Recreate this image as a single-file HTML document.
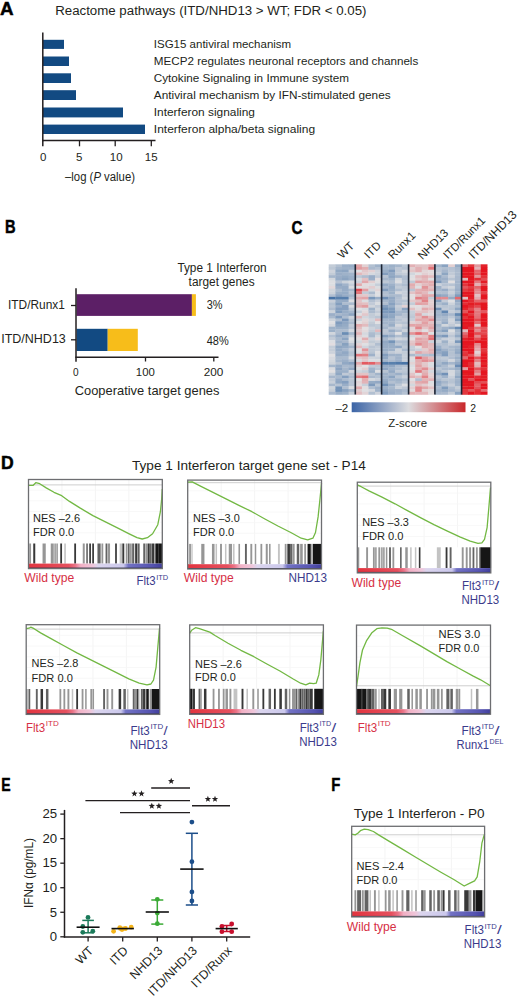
<!DOCTYPE html>
<html><head><meta charset="utf-8"><style>
html,body{margin:0;padding:0;background:#fff;}
svg{display:block;font-family:"Liberation Sans", sans-serif;}
</style></head><body>
<svg width="520" height="1001" viewBox="0 0 520 1001">
<rect width="520" height="1001" fill="#fff"/>
<text x="0.0" y="14.9" font-size="17.8" font-weight="bold" stroke="#000" stroke-width="0.45" textLength="13.6" lengthAdjust="spacingAndGlyphs" fill="#000">A</text>
<text x="55.2" y="15.0" font-size="12" textLength="311.3" lengthAdjust="spacingAndGlyphs" fill="#231f20">Reactome pathways (ITD/NHD13 &gt; WT; FDR &lt; 0.05)</text>
<rect x="43.00" y="39.80" width="21.00" height="9.10" fill="#124a82"/>
<rect x="43.00" y="56.50" width="26.00" height="9.50" fill="#124a82"/>
<rect x="43.00" y="73.30" width="28.00" height="9.70" fill="#124a82"/>
<rect x="43.00" y="90.20" width="33.00" height="9.80" fill="#124a82"/>
<rect x="43.00" y="107.50" width="80.00" height="9.90" fill="#124a82"/>
<rect x="43.00" y="124.60" width="102.00" height="9.40" fill="#124a82"/>
<line x1="42.80" y1="32.50" x2="42.80" y2="141.20" stroke="#231f20" stroke-width="1.5"/>
<line x1="42.10" y1="140.50" x2="155.50" y2="140.50" stroke="#231f20" stroke-width="1.5"/>
<line x1="79.50" y1="140.50" x2="79.50" y2="146.30" stroke="#231f20" stroke-width="1.3"/>
<line x1="115.20" y1="140.50" x2="115.20" y2="146.30" stroke="#231f20" stroke-width="1.3"/>
<line x1="151.30" y1="140.50" x2="151.30" y2="146.30" stroke="#231f20" stroke-width="1.3"/>
<line x1="42.80" y1="140.50" x2="42.80" y2="146.30" stroke="#231f20" stroke-width="1.5"/>
<text x="43.1" y="161.3" font-size="11.5" text-anchor="middle" fill="#231f20">0</text>
<text x="79.1" y="161.3" font-size="11.5" text-anchor="middle" fill="#231f20">5</text>
<text x="116.2" y="161.3" font-size="11.5" text-anchor="middle" fill="#231f20">10</text>
<text x="151.2" y="161.3" font-size="11.5" text-anchor="middle" fill="#231f20">15</text>
<text x="153.8" y="47.5" font-size="11.6" textLength="137.4" lengthAdjust="spacingAndGlyphs" fill="#231f20">ISG15 antiviral mechanism</text>
<text x="153.8" y="64.6" font-size="11.6" textLength="264.5" lengthAdjust="spacingAndGlyphs" fill="#231f20">MECP2 regulates neuronal receptors and channels</text>
<text x="153.8" y="81.7" font-size="11.6" textLength="195.2" lengthAdjust="spacingAndGlyphs" fill="#231f20">Cytokine Signaling in Immune system</text>
<text x="153.8" y="98.7" font-size="11.6" textLength="236.8" lengthAdjust="spacingAndGlyphs" fill="#231f20">Antiviral mechanism by IFN-stimulated genes</text>
<text x="153.8" y="115.7" font-size="11.6" textLength="101.1" lengthAdjust="spacingAndGlyphs" fill="#231f20">Interferon signaling</text>
<text x="153.8" y="132.7" font-size="11.6" textLength="161.3" lengthAdjust="spacingAndGlyphs" fill="#231f20">Interferon alpha/beta signaling</text>
<text x="65" y="181.2" font-size="12.5" textLength="70" lengthAdjust="spacingAndGlyphs" fill="#231f20">–log (<tspan font-style="italic">P</tspan> value)</text>
<text x="4.9" y="232.9" font-size="17.8" font-weight="bold" stroke="#000" stroke-width="0.45" textLength="10.6" lengthAdjust="spacingAndGlyphs" fill="#000">B</text>
<text x="177.4" y="271.9" font-size="12.3" textLength="89.3" lengthAdjust="spacingAndGlyphs" fill="#231f20">Type 1 Interferon</text>
<text x="188.6" y="286.3" font-size="12.3" textLength="66.0" lengthAdjust="spacingAndGlyphs" fill="#231f20">target genes</text>
<text x="8.0" y="309.2" font-size="12.3" textLength="56.9" lengthAdjust="spacingAndGlyphs" fill="#231f20">ITD/Runx1</text>
<text x="1.2" y="343.0" font-size="12.3" textLength="64.6" lengthAdjust="spacingAndGlyphs" fill="#231f20">ITD/NHD13</text>
<rect x="76.50" y="294.20" width="115.40" height="21.70" fill="#5c1f66"/>
<rect x="191.90" y="294.20" width="4.00" height="21.70" fill="#f7bd1a"/>
<rect x="76.50" y="328.80" width="31.20" height="22.20" fill="#124a82"/>
<rect x="107.70" y="328.80" width="30.10" height="22.20" fill="#f7bd1a"/>
<line x1="76.00" y1="288.20" x2="76.00" y2="361.70" stroke="#231f20" stroke-width="1.5"/>
<line x1="75.30" y1="357.20" x2="218.50" y2="357.20" stroke="#231f20" stroke-width="1.5"/>
<line x1="145.50" y1="357.20" x2="145.50" y2="361.50" stroke="#231f20" stroke-width="1.3"/>
<line x1="213.80" y1="357.20" x2="213.80" y2="361.50" stroke="#231f20" stroke-width="1.3"/>
<line x1="71.00" y1="305.50" x2="76.00" y2="305.50" stroke="#231f20" stroke-width="1.3"/>
<line x1="71.00" y1="339.80" x2="76.00" y2="339.80" stroke="#231f20" stroke-width="1.3"/>
<text x="206.7" y="308.8" font-size="12.3" textLength="15.8" lengthAdjust="spacingAndGlyphs" fill="#231f20">3%</text>
<text x="206.7" y="345.2" font-size="12.3" textLength="22.0" lengthAdjust="spacingAndGlyphs" fill="#231f20">48%</text>
<text x="73.0" y="376.2" font-size="11.7" textLength="5.6" lengthAdjust="spacingAndGlyphs" fill="#231f20">0</text>
<text x="135.8" y="376.2" font-size="11.7" textLength="19.0" lengthAdjust="spacingAndGlyphs" fill="#231f20">100</text>
<text x="203.8" y="376.2" font-size="11.7" textLength="19.6" lengthAdjust="spacingAndGlyphs" fill="#231f20">200</text>
<text x="74.7" y="395.2" font-size="12.6" textLength="144.8" lengthAdjust="spacingAndGlyphs" fill="#231f20">Cooperative target genes</text>
<text x="291.6" y="233.6" font-size="17.8" font-weight="bold" stroke="#000" stroke-width="0.45" textLength="11.0" lengthAdjust="spacingAndGlyphs" fill="#000">C</text>
<g filter="url(#hb)">
<rect x="328.70" y="264.30" width="6.95" height="3.01" fill="#c3ccd7"/>
<rect x="328.70" y="267.01" width="6.95" height="3.01" fill="#bdc8d5"/>
<rect x="328.70" y="269.73" width="6.95" height="3.01" fill="#ced3dc"/>
<rect x="328.70" y="272.44" width="6.95" height="3.01" fill="#c3ccd7"/>
<rect x="328.70" y="275.15" width="6.95" height="3.01" fill="#a5b6cb"/>
<rect x="328.70" y="277.86" width="6.95" height="3.01" fill="#d4d8de"/>
<rect x="328.70" y="280.57" width="6.95" height="3.01" fill="#dddee2"/>
<rect x="328.70" y="283.29" width="6.95" height="3.01" fill="#dbdde1"/>
<rect x="328.70" y="286.00" width="6.95" height="3.01" fill="#e2d8db"/>
<rect x="328.70" y="288.71" width="6.95" height="3.01" fill="#d0d5dc"/>
<rect x="328.70" y="291.43" width="6.95" height="3.01" fill="#cdd3db"/>
<rect x="328.70" y="294.14" width="6.95" height="3.01" fill="#b2bfd1"/>
<rect x="328.70" y="296.85" width="6.95" height="3.01" fill="#4773a6"/>
<rect x="328.70" y="299.56" width="6.95" height="3.01" fill="#c7ced9"/>
<rect x="328.70" y="302.28" width="6.95" height="3.01" fill="#b5c2d2"/>
<rect x="328.70" y="304.99" width="6.95" height="3.01" fill="#bac6d4"/>
<rect x="328.70" y="307.70" width="6.95" height="3.01" fill="#afbdcf"/>
<rect x="328.70" y="310.41" width="6.95" height="3.01" fill="#ced4dc"/>
<rect x="328.70" y="313.12" width="6.95" height="3.01" fill="#9cafc8"/>
<rect x="328.70" y="315.84" width="6.95" height="3.01" fill="#a9b9cd"/>
<rect x="328.70" y="318.55" width="6.95" height="3.01" fill="#ced4dc"/>
<rect x="328.70" y="321.26" width="6.95" height="3.01" fill="#e0e0e3"/>
<rect x="328.70" y="323.98" width="6.95" height="3.01" fill="#d6d9df"/>
<rect x="328.70" y="326.69" width="6.95" height="3.01" fill="#a0b3c9"/>
<rect x="328.70" y="329.40" width="6.95" height="3.01" fill="#9db1c8"/>
<rect x="328.70" y="332.11" width="6.95" height="3.01" fill="#d1d6dd"/>
<rect x="328.70" y="334.82" width="6.95" height="3.01" fill="#b4c1d2"/>
<rect x="328.70" y="337.54" width="6.95" height="3.01" fill="#c3cbd7"/>
<rect x="328.70" y="340.25" width="6.95" height="3.01" fill="#dddee2"/>
<rect x="328.70" y="342.96" width="6.95" height="3.01" fill="#e2dde0"/>
<rect x="328.70" y="345.68" width="6.95" height="3.01" fill="#c4cdd8"/>
<rect x="328.70" y="348.39" width="6.95" height="3.01" fill="#c5cdd8"/>
<rect x="328.70" y="351.10" width="6.95" height="3.01" fill="#ccd2db"/>
<rect x="328.70" y="353.81" width="6.95" height="3.01" fill="#e2e1e3"/>
<rect x="328.70" y="356.52" width="6.95" height="3.01" fill="#d8dae0"/>
<rect x="328.70" y="359.24" width="6.95" height="3.01" fill="#d2d7de"/>
<rect x="328.70" y="361.95" width="6.95" height="3.01" fill="#cdd3db"/>
<rect x="328.70" y="364.66" width="6.95" height="3.01" fill="#a3b5cb"/>
<rect x="328.70" y="367.38" width="6.95" height="3.01" fill="#d9dbe0"/>
<rect x="328.70" y="370.09" width="6.95" height="3.01" fill="#e2e0e2"/>
<rect x="328.70" y="372.80" width="6.95" height="3.01" fill="#c9d0da"/>
<rect x="328.70" y="375.51" width="6.95" height="3.01" fill="#a7b7cc"/>
<rect x="328.70" y="378.23" width="6.95" height="3.01" fill="#c0c9d6"/>
<rect x="328.70" y="380.94" width="6.95" height="3.01" fill="#c9d0da"/>
<rect x="328.70" y="383.65" width="6.95" height="3.01" fill="#a8b8cc"/>
<rect x="328.70" y="386.36" width="6.95" height="3.01" fill="#cfd5dc"/>
<rect x="328.70" y="389.07" width="6.95" height="3.01" fill="#c7cfd9"/>
<rect x="328.70" y="391.79" width="6.95" height="3.01" fill="#adbccf"/>
<rect x="335.35" y="264.30" width="6.95" height="3.01" fill="#b1bfd0"/>
<rect x="335.35" y="267.01" width="6.95" height="3.01" fill="#a5b6cb"/>
<rect x="335.35" y="269.73" width="6.95" height="3.01" fill="#92a9c4"/>
<rect x="335.35" y="272.44" width="6.95" height="3.01" fill="#9aaec7"/>
<rect x="335.35" y="275.15" width="6.95" height="3.01" fill="#9aaec7"/>
<rect x="335.35" y="277.86" width="6.95" height="3.01" fill="#97acc6"/>
<rect x="335.35" y="280.57" width="6.95" height="3.01" fill="#b5c1d2"/>
<rect x="335.35" y="283.29" width="6.95" height="3.01" fill="#8fa6c3"/>
<rect x="335.35" y="286.00" width="6.95" height="3.01" fill="#99adc6"/>
<rect x="335.35" y="288.71" width="6.95" height="3.01" fill="#abbbce"/>
<rect x="335.35" y="291.43" width="6.95" height="3.01" fill="#9bafc7"/>
<rect x="335.35" y="294.14" width="6.95" height="3.01" fill="#89a2c0"/>
<rect x="335.35" y="296.85" width="6.95" height="3.01" fill="#5980ad"/>
<rect x="335.35" y="299.56" width="6.95" height="3.01" fill="#96acc6"/>
<rect x="335.35" y="302.28" width="6.95" height="3.01" fill="#839ebe"/>
<rect x="335.35" y="304.99" width="6.95" height="3.01" fill="#99adc7"/>
<rect x="335.35" y="307.70" width="6.95" height="3.01" fill="#859fbf"/>
<rect x="335.35" y="310.41" width="6.95" height="3.01" fill="#829dbe"/>
<rect x="335.35" y="313.12" width="6.95" height="3.01" fill="#a8b8cc"/>
<rect x="335.35" y="315.84" width="6.95" height="3.01" fill="#819cbd"/>
<rect x="335.35" y="318.55" width="6.95" height="3.01" fill="#b0bed0"/>
<rect x="335.35" y="321.26" width="6.95" height="3.01" fill="#809cbd"/>
<rect x="335.35" y="323.98" width="6.95" height="3.01" fill="#8da5c2"/>
<rect x="335.35" y="326.69" width="6.95" height="3.01" fill="#9cb0c8"/>
<rect x="335.35" y="329.40" width="6.95" height="3.01" fill="#adbccf"/>
<rect x="335.35" y="332.11" width="6.95" height="3.01" fill="#a9b9cd"/>
<rect x="335.35" y="334.82" width="6.95" height="3.01" fill="#97acc6"/>
<rect x="335.35" y="337.54" width="6.95" height="3.01" fill="#a8b9cd"/>
<rect x="335.35" y="340.25" width="6.95" height="3.01" fill="#9eb1c9"/>
<rect x="335.35" y="342.96" width="6.95" height="3.01" fill="#abbbce"/>
<rect x="335.35" y="345.68" width="6.95" height="3.01" fill="#8ea6c2"/>
<rect x="335.35" y="348.39" width="6.95" height="3.01" fill="#95abc5"/>
<rect x="335.35" y="351.10" width="6.95" height="3.01" fill="#9eb1c9"/>
<rect x="335.35" y="353.81" width="6.95" height="3.01" fill="#96abc5"/>
<rect x="335.35" y="356.52" width="6.95" height="3.01" fill="#aabacd"/>
<rect x="335.35" y="359.24" width="6.95" height="3.01" fill="#a3b5cb"/>
<rect x="335.35" y="361.95" width="6.95" height="3.01" fill="#b6c2d2"/>
<rect x="335.35" y="364.66" width="6.95" height="3.01" fill="#94aac5"/>
<rect x="335.35" y="367.38" width="6.95" height="3.01" fill="#8ba3c1"/>
<rect x="335.35" y="370.09" width="6.95" height="3.01" fill="#9bafc7"/>
<rect x="335.35" y="372.80" width="6.95" height="3.01" fill="#8fa7c3"/>
<rect x="335.35" y="375.51" width="6.95" height="3.01" fill="#a9b9cd"/>
<rect x="335.35" y="378.23" width="6.95" height="3.01" fill="#95aac5"/>
<rect x="335.35" y="380.94" width="6.95" height="3.01" fill="#90a7c3"/>
<rect x="335.35" y="383.65" width="6.95" height="3.01" fill="#b7c3d3"/>
<rect x="335.35" y="386.36" width="6.95" height="3.01" fill="#7594b8"/>
<rect x="335.35" y="389.07" width="6.95" height="3.01" fill="#7191b7"/>
<rect x="335.35" y="391.79" width="6.95" height="3.01" fill="#98adc6"/>
<rect x="342.00" y="264.30" width="6.95" height="3.01" fill="#9bafc8"/>
<rect x="342.00" y="267.01" width="6.95" height="3.01" fill="#9fb2c9"/>
<rect x="342.00" y="269.73" width="6.95" height="3.01" fill="#8da5c2"/>
<rect x="342.00" y="272.44" width="6.95" height="3.01" fill="#9fb2c9"/>
<rect x="342.00" y="275.15" width="6.95" height="3.01" fill="#93aac4"/>
<rect x="342.00" y="277.86" width="6.95" height="3.01" fill="#8ca4c1"/>
<rect x="342.00" y="280.57" width="6.95" height="3.01" fill="#cbd2db"/>
<rect x="342.00" y="283.29" width="6.95" height="3.01" fill="#a1b3ca"/>
<rect x="342.00" y="286.00" width="6.95" height="3.01" fill="#96abc5"/>
<rect x="342.00" y="288.71" width="6.95" height="3.01" fill="#97acc6"/>
<rect x="342.00" y="291.43" width="6.95" height="3.01" fill="#96acc6"/>
<rect x="342.00" y="294.14" width="6.95" height="3.01" fill="#97acc6"/>
<rect x="342.00" y="296.85" width="6.95" height="3.01" fill="#587fad"/>
<rect x="342.00" y="299.56" width="6.95" height="3.01" fill="#96abc5"/>
<rect x="342.00" y="302.28" width="6.95" height="3.01" fill="#adbccf"/>
<rect x="342.00" y="304.99" width="6.95" height="3.01" fill="#87a0bf"/>
<rect x="342.00" y="307.70" width="6.95" height="3.01" fill="#87a0bf"/>
<rect x="342.00" y="310.41" width="6.95" height="3.01" fill="#98adc6"/>
<rect x="342.00" y="313.12" width="6.95" height="3.01" fill="#9eb1c9"/>
<rect x="342.00" y="315.84" width="6.95" height="3.01" fill="#adbccf"/>
<rect x="342.00" y="318.55" width="6.95" height="3.01" fill="#7b98bb"/>
<rect x="342.00" y="321.26" width="6.95" height="3.01" fill="#90a7c3"/>
<rect x="342.00" y="323.98" width="6.95" height="3.01" fill="#95abc5"/>
<rect x="342.00" y="326.69" width="6.95" height="3.01" fill="#9cb0c8"/>
<rect x="342.00" y="329.40" width="6.95" height="3.01" fill="#adbcce"/>
<rect x="342.00" y="332.11" width="6.95" height="3.01" fill="#6b8db4"/>
<rect x="342.00" y="334.82" width="6.95" height="3.01" fill="#a4b6cb"/>
<rect x="342.00" y="337.54" width="6.95" height="3.01" fill="#8ca5c2"/>
<rect x="342.00" y="340.25" width="6.95" height="3.01" fill="#a8b8cc"/>
<rect x="342.00" y="342.96" width="6.95" height="3.01" fill="#87a1bf"/>
<rect x="342.00" y="345.68" width="6.95" height="3.01" fill="#94aac5"/>
<rect x="342.00" y="348.39" width="6.95" height="3.01" fill="#a5b6cc"/>
<rect x="342.00" y="351.10" width="6.95" height="3.01" fill="#91a8c4"/>
<rect x="342.00" y="353.81" width="6.95" height="3.01" fill="#99aec7"/>
<rect x="342.00" y="356.52" width="6.95" height="3.01" fill="#aabace"/>
<rect x="342.00" y="359.24" width="6.95" height="3.01" fill="#9bafc8"/>
<rect x="342.00" y="361.95" width="6.95" height="3.01" fill="#91a8c4"/>
<rect x="342.00" y="364.66" width="6.95" height="3.01" fill="#a9b9cd"/>
<rect x="342.00" y="367.38" width="6.95" height="3.01" fill="#a5b6cb"/>
<rect x="342.00" y="370.09" width="6.95" height="3.01" fill="#9cb0c8"/>
<rect x="342.00" y="372.80" width="6.95" height="3.01" fill="#c0c9d6"/>
<rect x="342.00" y="375.51" width="6.95" height="3.01" fill="#859fbf"/>
<rect x="342.00" y="378.23" width="6.95" height="3.01" fill="#abbace"/>
<rect x="342.00" y="380.94" width="6.95" height="3.01" fill="#859fbf"/>
<rect x="342.00" y="383.65" width="6.95" height="3.01" fill="#99aec7"/>
<rect x="342.00" y="386.36" width="6.95" height="3.01" fill="#afbdcf"/>
<rect x="342.00" y="389.07" width="6.95" height="3.01" fill="#89a2c0"/>
<rect x="342.00" y="391.79" width="6.95" height="3.01" fill="#9fb2c9"/>
<rect x="348.65" y="264.30" width="6.95" height="3.01" fill="#98adc6"/>
<rect x="348.65" y="267.01" width="6.95" height="3.01" fill="#9fb2c9"/>
<rect x="348.65" y="269.73" width="6.95" height="3.01" fill="#bec8d6"/>
<rect x="348.65" y="272.44" width="6.95" height="3.01" fill="#a2b4ca"/>
<rect x="348.65" y="275.15" width="6.95" height="3.01" fill="#9bafc8"/>
<rect x="348.65" y="277.86" width="6.95" height="3.01" fill="#9aaec7"/>
<rect x="348.65" y="280.57" width="6.95" height="3.01" fill="#d6d9df"/>
<rect x="348.65" y="283.29" width="6.95" height="3.01" fill="#c6ced9"/>
<rect x="348.65" y="286.00" width="6.95" height="3.01" fill="#d9dbe0"/>
<rect x="348.65" y="288.71" width="6.95" height="3.01" fill="#a7b8cc"/>
<rect x="348.65" y="291.43" width="6.95" height="3.01" fill="#b9c4d3"/>
<rect x="348.65" y="294.14" width="6.95" height="3.01" fill="#a3b5cb"/>
<rect x="348.65" y="296.85" width="6.95" height="3.01" fill="#b4c1d2"/>
<rect x="348.65" y="299.56" width="6.95" height="3.01" fill="#d9dbe0"/>
<rect x="348.65" y="302.28" width="6.95" height="3.01" fill="#aabace"/>
<rect x="348.65" y="304.99" width="6.95" height="3.01" fill="#d5d9df"/>
<rect x="348.65" y="307.70" width="6.95" height="3.01" fill="#b8c4d3"/>
<rect x="348.65" y="310.41" width="6.95" height="3.01" fill="#a3b5cb"/>
<rect x="348.65" y="313.12" width="6.95" height="3.01" fill="#8ba4c1"/>
<rect x="348.65" y="315.84" width="6.95" height="3.01" fill="#cad1da"/>
<rect x="348.65" y="318.55" width="6.95" height="3.01" fill="#b6c3d2"/>
<rect x="348.65" y="321.26" width="6.95" height="3.01" fill="#aabace"/>
<rect x="348.65" y="323.98" width="6.95" height="3.01" fill="#c1cad7"/>
<rect x="348.65" y="326.69" width="6.95" height="3.01" fill="#b7c3d3"/>
<rect x="348.65" y="329.40" width="6.95" height="3.01" fill="#d3d7de"/>
<rect x="348.65" y="332.11" width="6.95" height="3.01" fill="#a7b8cc"/>
<rect x="348.65" y="334.82" width="6.95" height="3.01" fill="#c4ccd8"/>
<rect x="348.65" y="337.54" width="6.95" height="3.01" fill="#dfe0e2"/>
<rect x="348.65" y="340.25" width="6.95" height="3.01" fill="#d4d8de"/>
<rect x="348.65" y="342.96" width="6.95" height="3.01" fill="#bdc7d5"/>
<rect x="348.65" y="345.68" width="6.95" height="3.01" fill="#a3b5cb"/>
<rect x="348.65" y="348.39" width="6.95" height="3.01" fill="#c1cad7"/>
<rect x="348.65" y="351.10" width="6.95" height="3.01" fill="#b4c1d2"/>
<rect x="348.65" y="353.81" width="6.95" height="3.01" fill="#b7c3d2"/>
<rect x="348.65" y="356.52" width="6.95" height="3.01" fill="#d4d8de"/>
<rect x="348.65" y="359.24" width="6.95" height="3.01" fill="#b3c0d1"/>
<rect x="348.65" y="361.95" width="6.95" height="3.01" fill="#89a2c0"/>
<rect x="348.65" y="364.66" width="6.95" height="3.01" fill="#a6b7cc"/>
<rect x="348.65" y="367.38" width="6.95" height="3.01" fill="#90a7c3"/>
<rect x="348.65" y="370.09" width="6.95" height="3.01" fill="#cfd4dc"/>
<rect x="348.65" y="372.80" width="6.95" height="3.01" fill="#b4c1d1"/>
<rect x="348.65" y="375.51" width="6.95" height="3.01" fill="#adbccf"/>
<rect x="348.65" y="378.23" width="6.95" height="3.01" fill="#b9c5d3"/>
<rect x="348.65" y="380.94" width="6.95" height="3.01" fill="#b7c3d3"/>
<rect x="348.65" y="383.65" width="6.95" height="3.01" fill="#b7c3d3"/>
<rect x="348.65" y="386.36" width="6.95" height="3.01" fill="#d8dbe0"/>
<rect x="348.65" y="389.07" width="6.95" height="3.01" fill="#a3b5cb"/>
<rect x="348.65" y="391.79" width="6.95" height="3.01" fill="#c5cdd8"/>
<rect x="355.30" y="264.30" width="6.88" height="3.01" fill="#e2a6a9"/>
<rect x="355.30" y="267.01" width="6.88" height="3.01" fill="#e29b9f"/>
<rect x="355.30" y="269.73" width="6.88" height="3.01" fill="#e1e1e3"/>
<rect x="355.30" y="272.44" width="6.88" height="3.01" fill="#e2b8bb"/>
<rect x="355.30" y="275.15" width="6.88" height="3.01" fill="#bdc7d5"/>
<rect x="355.30" y="277.86" width="6.88" height="3.01" fill="#d7dadf"/>
<rect x="355.30" y="280.57" width="6.88" height="3.01" fill="#cdd2db"/>
<rect x="355.30" y="283.29" width="6.88" height="3.01" fill="#e2abae"/>
<rect x="355.30" y="286.00" width="6.88" height="3.01" fill="#dedfe2"/>
<rect x="355.30" y="288.71" width="6.88" height="3.01" fill="#e34c52"/>
<rect x="355.30" y="291.43" width="6.88" height="3.01" fill="#e3787d"/>
<rect x="355.30" y="294.14" width="6.88" height="3.01" fill="#e2c5c8"/>
<rect x="355.30" y="296.85" width="6.88" height="3.01" fill="#e2abaf"/>
<rect x="355.30" y="299.56" width="6.88" height="3.01" fill="#e2c3c6"/>
<rect x="355.30" y="302.28" width="6.88" height="3.01" fill="#e2b9bc"/>
<rect x="355.30" y="304.99" width="6.88" height="3.01" fill="#e2acb0"/>
<rect x="355.30" y="307.70" width="6.88" height="3.01" fill="#dfe0e3"/>
<rect x="355.30" y="310.41" width="6.88" height="3.01" fill="#c5cdd8"/>
<rect x="355.30" y="313.12" width="6.88" height="3.01" fill="#dedfe2"/>
<rect x="355.30" y="315.84" width="6.88" height="3.01" fill="#e2b4b7"/>
<rect x="355.30" y="318.55" width="6.88" height="3.01" fill="#cdd3db"/>
<rect x="355.30" y="321.26" width="6.88" height="3.01" fill="#e2dfe1"/>
<rect x="355.30" y="323.98" width="6.88" height="3.01" fill="#e2acaf"/>
<rect x="355.30" y="326.69" width="6.88" height="3.01" fill="#e2bdc0"/>
<rect x="355.30" y="329.40" width="6.88" height="3.01" fill="#e2cacd"/>
<rect x="355.30" y="332.11" width="6.88" height="3.01" fill="#e2b3b6"/>
<rect x="355.30" y="334.82" width="6.88" height="3.01" fill="#e2cfd2"/>
<rect x="355.30" y="337.54" width="6.88" height="3.01" fill="#e2dddf"/>
<rect x="355.30" y="340.25" width="6.88" height="3.01" fill="#d1d6dd"/>
<rect x="355.30" y="342.96" width="6.88" height="3.01" fill="#e2d3d6"/>
<rect x="355.30" y="345.68" width="6.88" height="3.01" fill="#e2b9bd"/>
<rect x="355.30" y="348.39" width="6.88" height="3.01" fill="#dfdfe2"/>
<rect x="355.30" y="351.10" width="6.88" height="3.01" fill="#dadce0"/>
<rect x="355.30" y="353.81" width="6.88" height="3.01" fill="#e3787d"/>
<rect x="355.30" y="356.52" width="6.88" height="3.01" fill="#e2cacd"/>
<rect x="355.30" y="359.24" width="6.88" height="3.01" fill="#d8dbe0"/>
<rect x="355.30" y="361.95" width="6.88" height="3.01" fill="#e2a9ac"/>
<rect x="355.30" y="364.66" width="6.88" height="3.01" fill="#e2ced0"/>
<rect x="355.30" y="367.38" width="6.88" height="3.01" fill="#dfe0e2"/>
<rect x="355.30" y="370.09" width="6.88" height="3.01" fill="#ced4dc"/>
<rect x="355.30" y="372.80" width="6.88" height="3.01" fill="#e2c1c4"/>
<rect x="355.30" y="375.51" width="6.88" height="3.01" fill="#e27f84"/>
<rect x="355.30" y="378.23" width="6.88" height="3.01" fill="#e1e1e3"/>
<rect x="355.30" y="380.94" width="6.88" height="3.01" fill="#e2d4d7"/>
<rect x="355.30" y="383.65" width="6.88" height="3.01" fill="#e2dadc"/>
<rect x="355.30" y="386.36" width="6.88" height="3.01" fill="#e2aaae"/>
<rect x="355.30" y="389.07" width="6.88" height="3.01" fill="#e2cdcf"/>
<rect x="355.30" y="391.79" width="6.88" height="3.01" fill="#e2bec1"/>
<rect x="361.88" y="264.30" width="6.88" height="3.01" fill="#e2d1d3"/>
<rect x="361.88" y="267.01" width="6.88" height="3.01" fill="#e2adb0"/>
<rect x="361.88" y="269.73" width="6.88" height="3.01" fill="#e2c7ca"/>
<rect x="361.88" y="272.44" width="6.88" height="3.01" fill="#e2ced0"/>
<rect x="361.88" y="275.15" width="6.88" height="3.01" fill="#afbdcf"/>
<rect x="361.88" y="277.86" width="6.88" height="3.01" fill="#e2c0c3"/>
<rect x="361.88" y="280.57" width="6.88" height="3.01" fill="#e2a7ab"/>
<rect x="361.88" y="283.29" width="6.88" height="3.01" fill="#e2dcde"/>
<rect x="361.88" y="286.00" width="6.88" height="3.01" fill="#e2dadc"/>
<rect x="361.88" y="288.71" width="6.88" height="3.01" fill="#e29ea2"/>
<rect x="361.88" y="291.43" width="6.88" height="3.01" fill="#c2cbd7"/>
<rect x="361.88" y="294.14" width="6.88" height="3.01" fill="#e2c8cb"/>
<rect x="361.88" y="296.85" width="6.88" height="3.01" fill="#e2a4a8"/>
<rect x="361.88" y="299.56" width="6.88" height="3.01" fill="#dbdde1"/>
<rect x="361.88" y="302.28" width="6.88" height="3.01" fill="#e2bfc2"/>
<rect x="361.88" y="304.99" width="6.88" height="3.01" fill="#e29da1"/>
<rect x="361.88" y="307.70" width="6.88" height="3.01" fill="#d8dbe0"/>
<rect x="361.88" y="310.41" width="6.88" height="3.01" fill="#e2d9db"/>
<rect x="361.88" y="313.12" width="6.88" height="3.01" fill="#e2c7ca"/>
<rect x="361.88" y="315.84" width="6.88" height="3.01" fill="#d0d5dc"/>
<rect x="361.88" y="318.55" width="6.88" height="3.01" fill="#e2d7d9"/>
<rect x="361.88" y="321.26" width="6.88" height="3.01" fill="#e2d0d2"/>
<rect x="361.88" y="323.98" width="6.88" height="3.01" fill="#e2bbbe"/>
<rect x="361.88" y="326.69" width="6.88" height="3.01" fill="#e2dfe1"/>
<rect x="361.88" y="329.40" width="6.88" height="3.01" fill="#e2dadc"/>
<rect x="361.88" y="332.11" width="6.88" height="3.01" fill="#d5d8de"/>
<rect x="361.88" y="334.82" width="6.88" height="3.01" fill="#dcdde1"/>
<rect x="361.88" y="337.54" width="6.88" height="3.01" fill="#e2adb0"/>
<rect x="361.88" y="340.25" width="6.88" height="3.01" fill="#e2cfd1"/>
<rect x="361.88" y="342.96" width="6.88" height="3.01" fill="#e0e0e3"/>
<rect x="361.88" y="345.68" width="6.88" height="3.01" fill="#d0d5dd"/>
<rect x="361.88" y="348.39" width="6.88" height="3.01" fill="#e29398"/>
<rect x="361.88" y="351.10" width="6.88" height="3.01" fill="#e2bbbe"/>
<rect x="361.88" y="353.81" width="6.88" height="3.01" fill="#e28287"/>
<rect x="361.88" y="356.52" width="6.88" height="3.01" fill="#e2bfc2"/>
<rect x="361.88" y="359.24" width="6.88" height="3.01" fill="#e2c7ca"/>
<rect x="361.88" y="361.95" width="6.88" height="3.01" fill="#e35a60"/>
<rect x="361.88" y="364.66" width="6.88" height="3.01" fill="#e0e1e3"/>
<rect x="361.88" y="367.38" width="6.88" height="3.01" fill="#e2ced0"/>
<rect x="361.88" y="370.09" width="6.88" height="3.01" fill="#c5cdd8"/>
<rect x="361.88" y="372.80" width="6.88" height="3.01" fill="#e2c2c5"/>
<rect x="361.88" y="375.51" width="6.88" height="3.01" fill="#e36f75"/>
<rect x="361.88" y="378.23" width="6.88" height="3.01" fill="#e2aeb1"/>
<rect x="361.88" y="380.94" width="6.88" height="3.01" fill="#e2b3b7"/>
<rect x="361.88" y="383.65" width="6.88" height="3.01" fill="#c8cfd9"/>
<rect x="361.88" y="386.36" width="6.88" height="3.01" fill="#e2dddf"/>
<rect x="361.88" y="389.07" width="6.88" height="3.01" fill="#e0e0e3"/>
<rect x="361.88" y="391.79" width="6.88" height="3.01" fill="#e2d5d8"/>
<rect x="368.45" y="264.30" width="6.88" height="3.01" fill="#b2c0d1"/>
<rect x="368.45" y="267.01" width="6.88" height="3.01" fill="#abbace"/>
<rect x="368.45" y="269.73" width="6.88" height="3.01" fill="#e2d0d3"/>
<rect x="368.45" y="272.44" width="6.88" height="3.01" fill="#d5d9df"/>
<rect x="368.45" y="275.15" width="6.88" height="3.01" fill="#99adc7"/>
<rect x="368.45" y="277.86" width="6.88" height="3.01" fill="#9bafc8"/>
<rect x="368.45" y="280.57" width="6.88" height="3.01" fill="#e2cfd1"/>
<rect x="368.45" y="283.29" width="6.88" height="3.01" fill="#dadce1"/>
<rect x="368.45" y="286.00" width="6.88" height="3.01" fill="#e2cccf"/>
<rect x="368.45" y="288.71" width="6.88" height="3.01" fill="#d4d8de"/>
<rect x="368.45" y="291.43" width="6.88" height="3.01" fill="#acbbce"/>
<rect x="368.45" y="294.14" width="6.88" height="3.01" fill="#c6ced9"/>
<rect x="368.45" y="296.85" width="6.88" height="3.01" fill="#7a98bb"/>
<rect x="368.45" y="299.56" width="6.88" height="3.01" fill="#b3c0d1"/>
<rect x="368.45" y="302.28" width="6.88" height="3.01" fill="#c1cad7"/>
<rect x="368.45" y="304.99" width="6.88" height="3.01" fill="#d0d5dc"/>
<rect x="368.45" y="307.70" width="6.88" height="3.01" fill="#9db1c8"/>
<rect x="368.45" y="310.41" width="6.88" height="3.01" fill="#acbbce"/>
<rect x="368.45" y="313.12" width="6.88" height="3.01" fill="#c2cbd7"/>
<rect x="368.45" y="315.84" width="6.88" height="3.01" fill="#c3ccd8"/>
<rect x="368.45" y="318.55" width="6.88" height="3.01" fill="#d1d5dd"/>
<rect x="368.45" y="321.26" width="6.88" height="3.01" fill="#c3ccd7"/>
<rect x="368.45" y="323.98" width="6.88" height="3.01" fill="#bbc6d4"/>
<rect x="368.45" y="326.69" width="6.88" height="3.01" fill="#ccd2db"/>
<rect x="368.45" y="329.40" width="6.88" height="3.01" fill="#c2cbd7"/>
<rect x="368.45" y="332.11" width="6.88" height="3.01" fill="#adbccf"/>
<rect x="368.45" y="334.82" width="6.88" height="3.01" fill="#a9b9cd"/>
<rect x="368.45" y="337.54" width="6.88" height="3.01" fill="#cdd3dc"/>
<rect x="368.45" y="340.25" width="6.88" height="3.01" fill="#c0cad6"/>
<rect x="368.45" y="342.96" width="6.88" height="3.01" fill="#cdd3db"/>
<rect x="368.45" y="345.68" width="6.88" height="3.01" fill="#b9c4d3"/>
<rect x="368.45" y="348.39" width="6.88" height="3.01" fill="#bcc7d5"/>
<rect x="368.45" y="351.10" width="6.88" height="3.01" fill="#b8c4d3"/>
<rect x="368.45" y="353.81" width="6.88" height="3.01" fill="#9eb1c9"/>
<rect x="368.45" y="356.52" width="6.88" height="3.01" fill="#ced4dc"/>
<rect x="368.45" y="359.24" width="6.88" height="3.01" fill="#dadce1"/>
<rect x="368.45" y="361.95" width="6.88" height="3.01" fill="#e36066"/>
<rect x="368.45" y="364.66" width="6.88" height="3.01" fill="#c1cad7"/>
<rect x="368.45" y="367.38" width="6.88" height="3.01" fill="#a2b4ca"/>
<rect x="368.45" y="370.09" width="6.88" height="3.01" fill="#9aafc7"/>
<rect x="368.45" y="372.80" width="6.88" height="3.01" fill="#b9c4d3"/>
<rect x="368.45" y="375.51" width="6.88" height="3.01" fill="#aab9cd"/>
<rect x="368.45" y="378.23" width="6.88" height="3.01" fill="#d4d8de"/>
<rect x="368.45" y="380.94" width="6.88" height="3.01" fill="#96acc6"/>
<rect x="368.45" y="383.65" width="6.88" height="3.01" fill="#7e9abc"/>
<rect x="368.45" y="386.36" width="6.88" height="3.01" fill="#b0bed0"/>
<rect x="368.45" y="389.07" width="6.88" height="3.01" fill="#d3d7de"/>
<rect x="368.45" y="391.79" width="6.88" height="3.01" fill="#b2c0d1"/>
<rect x="375.03" y="264.30" width="6.88" height="3.01" fill="#9fb2c9"/>
<rect x="375.03" y="267.01" width="6.88" height="3.01" fill="#b4c1d2"/>
<rect x="375.03" y="269.73" width="6.88" height="3.01" fill="#ced3dc"/>
<rect x="375.03" y="272.44" width="6.88" height="3.01" fill="#ccd2db"/>
<rect x="375.03" y="275.15" width="6.88" height="3.01" fill="#bfc9d6"/>
<rect x="375.03" y="277.86" width="6.88" height="3.01" fill="#e2dddf"/>
<rect x="375.03" y="280.57" width="6.88" height="3.01" fill="#dedfe2"/>
<rect x="375.03" y="283.29" width="6.88" height="3.01" fill="#c6ced9"/>
<rect x="375.03" y="286.00" width="6.88" height="3.01" fill="#dbdde1"/>
<rect x="375.03" y="288.71" width="6.88" height="3.01" fill="#e2d4d6"/>
<rect x="375.03" y="291.43" width="6.88" height="3.01" fill="#dedfe2"/>
<rect x="375.03" y="294.14" width="6.88" height="3.01" fill="#dedfe2"/>
<rect x="375.03" y="296.85" width="6.88" height="3.01" fill="#99aec7"/>
<rect x="375.03" y="299.56" width="6.88" height="3.01" fill="#c7ced9"/>
<rect x="375.03" y="302.28" width="6.88" height="3.01" fill="#d9dce0"/>
<rect x="375.03" y="304.99" width="6.88" height="3.01" fill="#c0c9d6"/>
<rect x="375.03" y="307.70" width="6.88" height="3.01" fill="#ced4dc"/>
<rect x="375.03" y="310.41" width="6.88" height="3.01" fill="#c2cbd7"/>
<rect x="375.03" y="313.12" width="6.88" height="3.01" fill="#d1d6dd"/>
<rect x="375.03" y="315.84" width="6.88" height="3.01" fill="#b9c5d4"/>
<rect x="375.03" y="318.55" width="6.88" height="3.01" fill="#e2babd"/>
<rect x="375.03" y="321.26" width="6.88" height="3.01" fill="#e1e1e3"/>
<rect x="375.03" y="323.98" width="6.88" height="3.01" fill="#c2cbd7"/>
<rect x="375.03" y="326.69" width="6.88" height="3.01" fill="#bfc9d6"/>
<rect x="375.03" y="329.40" width="6.88" height="3.01" fill="#e2b8bc"/>
<rect x="375.03" y="332.11" width="6.88" height="3.01" fill="#bec8d5"/>
<rect x="375.03" y="334.82" width="6.88" height="3.01" fill="#d2d7de"/>
<rect x="375.03" y="337.54" width="6.88" height="3.01" fill="#e2d8da"/>
<rect x="375.03" y="340.25" width="6.88" height="3.01" fill="#c8cfd9"/>
<rect x="375.03" y="342.96" width="6.88" height="3.01" fill="#b0bed0"/>
<rect x="375.03" y="345.68" width="6.88" height="3.01" fill="#c2cbd7"/>
<rect x="375.03" y="348.39" width="6.88" height="3.01" fill="#c5cdd8"/>
<rect x="375.03" y="351.10" width="6.88" height="3.01" fill="#dcdde1"/>
<rect x="375.03" y="353.81" width="6.88" height="3.01" fill="#d5d9df"/>
<rect x="375.03" y="356.52" width="6.88" height="3.01" fill="#c9d0da"/>
<rect x="375.03" y="359.24" width="6.88" height="3.01" fill="#dadce0"/>
<rect x="375.03" y="361.95" width="6.88" height="3.01" fill="#e28f93"/>
<rect x="375.03" y="364.66" width="6.88" height="3.01" fill="#bcc6d4"/>
<rect x="375.03" y="367.38" width="6.88" height="3.01" fill="#b8c4d3"/>
<rect x="375.03" y="370.09" width="6.88" height="3.01" fill="#dedfe2"/>
<rect x="375.03" y="372.80" width="6.88" height="3.01" fill="#a2b4ca"/>
<rect x="375.03" y="375.51" width="6.88" height="3.01" fill="#b5c2d2"/>
<rect x="375.03" y="378.23" width="6.88" height="3.01" fill="#c7ced9"/>
<rect x="375.03" y="380.94" width="6.88" height="3.01" fill="#92a8c4"/>
<rect x="375.03" y="383.65" width="6.88" height="3.01" fill="#b8c4d3"/>
<rect x="375.03" y="386.36" width="6.88" height="3.01" fill="#9db0c8"/>
<rect x="375.03" y="389.07" width="6.88" height="3.01" fill="#a0b3ca"/>
<rect x="375.03" y="391.79" width="6.88" height="3.01" fill="#ced3dc"/>
<rect x="381.60" y="264.30" width="7.05" height="3.01" fill="#a7b8cc"/>
<rect x="381.60" y="267.01" width="7.05" height="3.01" fill="#a3b5cb"/>
<rect x="381.60" y="269.73" width="7.05" height="3.01" fill="#99aec7"/>
<rect x="381.60" y="272.44" width="7.05" height="3.01" fill="#849ebe"/>
<rect x="381.60" y="275.15" width="7.05" height="3.01" fill="#b7c3d3"/>
<rect x="381.60" y="277.86" width="7.05" height="3.01" fill="#a7b7cc"/>
<rect x="381.60" y="280.57" width="7.05" height="3.01" fill="#bdc7d5"/>
<rect x="381.60" y="283.29" width="7.05" height="3.01" fill="#94aac5"/>
<rect x="381.60" y="286.00" width="7.05" height="3.01" fill="#a5b6cc"/>
<rect x="381.60" y="288.71" width="7.05" height="3.01" fill="#829dbd"/>
<rect x="381.60" y="291.43" width="7.05" height="3.01" fill="#b1bfd0"/>
<rect x="381.60" y="294.14" width="7.05" height="3.01" fill="#b2bfd0"/>
<rect x="381.60" y="296.85" width="7.05" height="3.01" fill="#6f90b6"/>
<rect x="381.60" y="299.56" width="7.05" height="3.01" fill="#a6b7cc"/>
<rect x="381.60" y="302.28" width="7.05" height="3.01" fill="#afbdcf"/>
<rect x="381.60" y="304.99" width="7.05" height="3.01" fill="#859fbf"/>
<rect x="381.60" y="307.70" width="7.05" height="3.01" fill="#7091b7"/>
<rect x="381.60" y="310.41" width="7.05" height="3.01" fill="#7d9abc"/>
<rect x="381.60" y="313.12" width="7.05" height="3.01" fill="#8da5c2"/>
<rect x="381.60" y="315.84" width="7.05" height="3.01" fill="#839ebe"/>
<rect x="381.60" y="318.55" width="7.05" height="3.01" fill="#a3b5cb"/>
<rect x="381.60" y="321.26" width="7.05" height="3.01" fill="#a3b5cb"/>
<rect x="381.60" y="323.98" width="7.05" height="3.01" fill="#afbed0"/>
<rect x="381.60" y="326.69" width="7.05" height="3.01" fill="#a6b7cc"/>
<rect x="381.60" y="329.40" width="7.05" height="3.01" fill="#bdc7d5"/>
<rect x="381.60" y="332.11" width="7.05" height="3.01" fill="#b7c3d3"/>
<rect x="381.60" y="334.82" width="7.05" height="3.01" fill="#839ebe"/>
<rect x="381.60" y="337.54" width="7.05" height="3.01" fill="#a6b7cc"/>
<rect x="381.60" y="340.25" width="7.05" height="3.01" fill="#92a8c4"/>
<rect x="381.60" y="342.96" width="7.05" height="3.01" fill="#97acc6"/>
<rect x="381.60" y="345.68" width="7.05" height="3.01" fill="#99adc7"/>
<rect x="381.60" y="348.39" width="7.05" height="3.01" fill="#99aec7"/>
<rect x="381.60" y="351.10" width="7.05" height="3.01" fill="#a5b6cb"/>
<rect x="381.60" y="353.81" width="7.05" height="3.01" fill="#839ebe"/>
<rect x="381.60" y="356.52" width="7.05" height="3.01" fill="#8fa7c3"/>
<rect x="381.60" y="359.24" width="7.05" height="3.01" fill="#a1b4ca"/>
<rect x="381.60" y="361.95" width="7.05" height="3.01" fill="#527baa"/>
<rect x="381.60" y="364.66" width="7.05" height="3.01" fill="#96abc5"/>
<rect x="381.60" y="367.38" width="7.05" height="3.01" fill="#8ea5c2"/>
<rect x="381.60" y="370.09" width="7.05" height="3.01" fill="#b7c3d2"/>
<rect x="381.60" y="372.80" width="7.05" height="3.01" fill="#9fb2c9"/>
<rect x="381.60" y="375.51" width="7.05" height="3.01" fill="#a0b3c9"/>
<rect x="381.60" y="378.23" width="7.05" height="3.01" fill="#97acc6"/>
<rect x="381.60" y="380.94" width="7.05" height="3.01" fill="#8fa7c3"/>
<rect x="381.60" y="383.65" width="7.05" height="3.01" fill="#7090b6"/>
<rect x="381.60" y="386.36" width="7.05" height="3.01" fill="#9aaec7"/>
<rect x="381.60" y="389.07" width="7.05" height="3.01" fill="#8ea6c2"/>
<rect x="381.60" y="391.79" width="7.05" height="3.01" fill="#829dbe"/>
<rect x="388.35" y="264.30" width="7.05" height="3.01" fill="#9cb0c8"/>
<rect x="388.35" y="267.01" width="7.05" height="3.01" fill="#a2b4ca"/>
<rect x="388.35" y="269.73" width="7.05" height="3.01" fill="#819cbd"/>
<rect x="388.35" y="272.44" width="7.05" height="3.01" fill="#94aac5"/>
<rect x="388.35" y="275.15" width="7.05" height="3.01" fill="#8da5c2"/>
<rect x="388.35" y="277.86" width="7.05" height="3.01" fill="#a1b4ca"/>
<rect x="388.35" y="280.57" width="7.05" height="3.01" fill="#b0bed0"/>
<rect x="388.35" y="283.29" width="7.05" height="3.01" fill="#9eb1c9"/>
<rect x="388.35" y="286.00" width="7.05" height="3.01" fill="#95abc5"/>
<rect x="388.35" y="288.71" width="7.05" height="3.01" fill="#9bafc7"/>
<rect x="388.35" y="291.43" width="7.05" height="3.01" fill="#9db1c8"/>
<rect x="388.35" y="294.14" width="7.05" height="3.01" fill="#aabacd"/>
<rect x="388.35" y="296.85" width="7.05" height="3.01" fill="#92a8c4"/>
<rect x="388.35" y="299.56" width="7.05" height="3.01" fill="#96abc5"/>
<rect x="388.35" y="302.28" width="7.05" height="3.01" fill="#88a1c0"/>
<rect x="388.35" y="304.99" width="7.05" height="3.01" fill="#99aec7"/>
<rect x="388.35" y="307.70" width="7.05" height="3.01" fill="#7f9bbc"/>
<rect x="388.35" y="310.41" width="7.05" height="3.01" fill="#7896ba"/>
<rect x="388.35" y="313.12" width="7.05" height="3.01" fill="#91a8c4"/>
<rect x="388.35" y="315.84" width="7.05" height="3.01" fill="#8ea6c2"/>
<rect x="388.35" y="318.55" width="7.05" height="3.01" fill="#a0b2c9"/>
<rect x="388.35" y="321.26" width="7.05" height="3.01" fill="#a4b5cb"/>
<rect x="388.35" y="323.98" width="7.05" height="3.01" fill="#98adc6"/>
<rect x="388.35" y="326.69" width="7.05" height="3.01" fill="#bec8d6"/>
<rect x="388.35" y="329.40" width="7.05" height="3.01" fill="#98adc6"/>
<rect x="388.35" y="332.11" width="7.05" height="3.01" fill="#b2bfd1"/>
<rect x="388.35" y="334.82" width="7.05" height="3.01" fill="#97acc6"/>
<rect x="388.35" y="337.54" width="7.05" height="3.01" fill="#bec8d5"/>
<rect x="388.35" y="340.25" width="7.05" height="3.01" fill="#7695b9"/>
<rect x="388.35" y="342.96" width="7.05" height="3.01" fill="#98adc6"/>
<rect x="388.35" y="345.68" width="7.05" height="3.01" fill="#9aaec7"/>
<rect x="388.35" y="348.39" width="7.05" height="3.01" fill="#9fb2c9"/>
<rect x="388.35" y="351.10" width="7.05" height="3.01" fill="#c1cad7"/>
<rect x="388.35" y="353.81" width="7.05" height="3.01" fill="#a0b2c9"/>
<rect x="388.35" y="356.52" width="7.05" height="3.01" fill="#b7c3d3"/>
<rect x="388.35" y="359.24" width="7.05" height="3.01" fill="#abbace"/>
<rect x="388.35" y="361.95" width="7.05" height="3.01" fill="#5980ad"/>
<rect x="388.35" y="364.66" width="7.05" height="3.01" fill="#90a7c3"/>
<rect x="388.35" y="367.38" width="7.05" height="3.01" fill="#9fb2c9"/>
<rect x="388.35" y="370.09" width="7.05" height="3.01" fill="#93a9c4"/>
<rect x="388.35" y="372.80" width="7.05" height="3.01" fill="#a9b9cd"/>
<rect x="388.35" y="375.51" width="7.05" height="3.01" fill="#8ba4c1"/>
<rect x="388.35" y="378.23" width="7.05" height="3.01" fill="#a3b5cb"/>
<rect x="388.35" y="380.94" width="7.05" height="3.01" fill="#b3c0d1"/>
<rect x="388.35" y="383.65" width="7.05" height="3.01" fill="#98adc6"/>
<rect x="388.35" y="386.36" width="7.05" height="3.01" fill="#a7b8cc"/>
<rect x="388.35" y="389.07" width="7.05" height="3.01" fill="#9eb1c9"/>
<rect x="388.35" y="391.79" width="7.05" height="3.01" fill="#99adc7"/>
<rect x="395.10" y="264.30" width="7.05" height="3.01" fill="#a5b6cb"/>
<rect x="395.10" y="267.01" width="7.05" height="3.01" fill="#bfc8d6"/>
<rect x="395.10" y="269.73" width="7.05" height="3.01" fill="#bec8d5"/>
<rect x="395.10" y="272.44" width="7.05" height="3.01" fill="#bfc9d6"/>
<rect x="395.10" y="275.15" width="7.05" height="3.01" fill="#a0b2c9"/>
<rect x="395.10" y="277.86" width="7.05" height="3.01" fill="#d2d7de"/>
<rect x="395.10" y="280.57" width="7.05" height="3.01" fill="#dddee2"/>
<rect x="395.10" y="283.29" width="7.05" height="3.01" fill="#bac5d4"/>
<rect x="395.10" y="286.00" width="7.05" height="3.01" fill="#c3ccd8"/>
<rect x="395.10" y="288.71" width="7.05" height="3.01" fill="#b0bed0"/>
<rect x="395.10" y="291.43" width="7.05" height="3.01" fill="#d2d6dd"/>
<rect x="395.10" y="294.14" width="7.05" height="3.01" fill="#abbace"/>
<rect x="395.10" y="296.85" width="7.05" height="3.01" fill="#b3c0d1"/>
<rect x="395.10" y="299.56" width="7.05" height="3.01" fill="#b5c1d2"/>
<rect x="395.10" y="302.28" width="7.05" height="3.01" fill="#aebccf"/>
<rect x="395.10" y="304.99" width="7.05" height="3.01" fill="#c7ced9"/>
<rect x="395.10" y="307.70" width="7.05" height="3.01" fill="#bec8d5"/>
<rect x="395.10" y="310.41" width="7.05" height="3.01" fill="#a6b7cc"/>
<rect x="395.10" y="313.12" width="7.05" height="3.01" fill="#a2b4ca"/>
<rect x="395.10" y="315.84" width="7.05" height="3.01" fill="#c0c9d6"/>
<rect x="395.10" y="318.55" width="7.05" height="3.01" fill="#b7c3d3"/>
<rect x="395.10" y="321.26" width="7.05" height="3.01" fill="#bbc6d4"/>
<rect x="395.10" y="323.98" width="7.05" height="3.01" fill="#d5d8de"/>
<rect x="395.10" y="326.69" width="7.05" height="3.01" fill="#c4ccd8"/>
<rect x="395.10" y="329.40" width="7.05" height="3.01" fill="#afbdcf"/>
<rect x="395.10" y="332.11" width="7.05" height="3.01" fill="#e1e1e3"/>
<rect x="395.10" y="334.82" width="7.05" height="3.01" fill="#b0bed0"/>
<rect x="395.10" y="337.54" width="7.05" height="3.01" fill="#d2d7de"/>
<rect x="395.10" y="340.25" width="7.05" height="3.01" fill="#afbdcf"/>
<rect x="395.10" y="342.96" width="7.05" height="3.01" fill="#bfc9d6"/>
<rect x="395.10" y="345.68" width="7.05" height="3.01" fill="#91a8c4"/>
<rect x="395.10" y="348.39" width="7.05" height="3.01" fill="#ced4dc"/>
<rect x="395.10" y="351.10" width="7.05" height="3.01" fill="#cbd1da"/>
<rect x="395.10" y="353.81" width="7.05" height="3.01" fill="#9fb2c9"/>
<rect x="395.10" y="356.52" width="7.05" height="3.01" fill="#a1b3ca"/>
<rect x="395.10" y="359.24" width="7.05" height="3.01" fill="#9bafc8"/>
<rect x="395.10" y="361.95" width="7.05" height="3.01" fill="#517aaa"/>
<rect x="395.10" y="364.66" width="7.05" height="3.01" fill="#acbbce"/>
<rect x="395.10" y="367.38" width="7.05" height="3.01" fill="#abbbce"/>
<rect x="395.10" y="370.09" width="7.05" height="3.01" fill="#bec8d5"/>
<rect x="395.10" y="372.80" width="7.05" height="3.01" fill="#9bafc8"/>
<rect x="395.10" y="375.51" width="7.05" height="3.01" fill="#b8c4d3"/>
<rect x="395.10" y="378.23" width="7.05" height="3.01" fill="#a0b3c9"/>
<rect x="395.10" y="380.94" width="7.05" height="3.01" fill="#a7b8cc"/>
<rect x="395.10" y="383.65" width="7.05" height="3.01" fill="#bbc6d4"/>
<rect x="395.10" y="386.36" width="7.05" height="3.01" fill="#c9d0da"/>
<rect x="395.10" y="389.07" width="7.05" height="3.01" fill="#a0b2c9"/>
<rect x="395.10" y="391.79" width="7.05" height="3.01" fill="#a3b5cb"/>
<rect x="401.85" y="264.30" width="7.05" height="3.01" fill="#bac6d4"/>
<rect x="401.85" y="267.01" width="7.05" height="3.01" fill="#b6c2d2"/>
<rect x="401.85" y="269.73" width="7.05" height="3.01" fill="#d3d7de"/>
<rect x="401.85" y="272.44" width="7.05" height="3.01" fill="#c5cdd8"/>
<rect x="401.85" y="275.15" width="7.05" height="3.01" fill="#b0bed0"/>
<rect x="401.85" y="277.86" width="7.05" height="3.01" fill="#b0bed0"/>
<rect x="401.85" y="280.57" width="7.05" height="3.01" fill="#b7c3d3"/>
<rect x="401.85" y="283.29" width="7.05" height="3.01" fill="#adbccf"/>
<rect x="401.85" y="286.00" width="7.05" height="3.01" fill="#bdc7d5"/>
<rect x="401.85" y="288.71" width="7.05" height="3.01" fill="#c1cad7"/>
<rect x="401.85" y="291.43" width="7.05" height="3.01" fill="#c6ced9"/>
<rect x="401.85" y="294.14" width="7.05" height="3.01" fill="#c6cdd8"/>
<rect x="401.85" y="296.85" width="7.05" height="3.01" fill="#d0d5dd"/>
<rect x="401.85" y="299.56" width="7.05" height="3.01" fill="#b5c2d2"/>
<rect x="401.85" y="302.28" width="7.05" height="3.01" fill="#bfc9d6"/>
<rect x="401.85" y="304.99" width="7.05" height="3.01" fill="#e2d1d4"/>
<rect x="401.85" y="307.70" width="7.05" height="3.01" fill="#8aa3c1"/>
<rect x="401.85" y="310.41" width="7.05" height="3.01" fill="#a1b4ca"/>
<rect x="401.85" y="313.12" width="7.05" height="3.01" fill="#b5c2d2"/>
<rect x="401.85" y="315.84" width="7.05" height="3.01" fill="#b8c4d3"/>
<rect x="401.85" y="318.55" width="7.05" height="3.01" fill="#c4ccd8"/>
<rect x="401.85" y="321.26" width="7.05" height="3.01" fill="#b5c2d2"/>
<rect x="401.85" y="323.98" width="7.05" height="3.01" fill="#c5cdd8"/>
<rect x="401.85" y="326.69" width="7.05" height="3.01" fill="#b5c2d2"/>
<rect x="401.85" y="329.40" width="7.05" height="3.01" fill="#cad1da"/>
<rect x="401.85" y="332.11" width="7.05" height="3.01" fill="#9cb0c8"/>
<rect x="401.85" y="334.82" width="7.05" height="3.01" fill="#a5b6cb"/>
<rect x="401.85" y="337.54" width="7.05" height="3.01" fill="#c9d0da"/>
<rect x="401.85" y="340.25" width="7.05" height="3.01" fill="#adbcce"/>
<rect x="401.85" y="342.96" width="7.05" height="3.01" fill="#b2c0d1"/>
<rect x="401.85" y="345.68" width="7.05" height="3.01" fill="#bfc9d6"/>
<rect x="401.85" y="348.39" width="7.05" height="3.01" fill="#a8b8cd"/>
<rect x="401.85" y="351.10" width="7.05" height="3.01" fill="#c2cbd7"/>
<rect x="401.85" y="353.81" width="7.05" height="3.01" fill="#c6ced9"/>
<rect x="401.85" y="356.52" width="7.05" height="3.01" fill="#c5cdd8"/>
<rect x="401.85" y="359.24" width="7.05" height="3.01" fill="#c5cdd8"/>
<rect x="401.85" y="361.95" width="7.05" height="3.01" fill="#4874a7"/>
<rect x="401.85" y="364.66" width="7.05" height="3.01" fill="#b1bfd0"/>
<rect x="401.85" y="367.38" width="7.05" height="3.01" fill="#bdc8d5"/>
<rect x="401.85" y="370.09" width="7.05" height="3.01" fill="#bbc6d4"/>
<rect x="401.85" y="372.80" width="7.05" height="3.01" fill="#b1bfd0"/>
<rect x="401.85" y="375.51" width="7.05" height="3.01" fill="#c9d0da"/>
<rect x="401.85" y="378.23" width="7.05" height="3.01" fill="#aebdcf"/>
<rect x="401.85" y="380.94" width="7.05" height="3.01" fill="#b8c4d3"/>
<rect x="401.85" y="383.65" width="7.05" height="3.01" fill="#dbdde1"/>
<rect x="401.85" y="386.36" width="7.05" height="3.01" fill="#bcc6d4"/>
<rect x="401.85" y="389.07" width="7.05" height="3.01" fill="#abbace"/>
<rect x="401.85" y="391.79" width="7.05" height="3.01" fill="#b4c1d2"/>
<rect x="408.60" y="264.30" width="6.87" height="3.01" fill="#e2b0b4"/>
<rect x="408.60" y="267.01" width="6.87" height="3.01" fill="#e2ced0"/>
<rect x="408.60" y="269.73" width="6.87" height="3.01" fill="#e2c4c6"/>
<rect x="408.60" y="272.44" width="6.87" height="3.01" fill="#d1d6dd"/>
<rect x="408.60" y="275.15" width="6.87" height="3.01" fill="#dddee2"/>
<rect x="408.60" y="277.86" width="6.87" height="3.01" fill="#e2dfe1"/>
<rect x="408.60" y="280.57" width="6.87" height="3.01" fill="#c1cad6"/>
<rect x="408.60" y="283.29" width="6.87" height="3.01" fill="#e2adb0"/>
<rect x="408.60" y="286.00" width="6.87" height="3.01" fill="#e2b7ba"/>
<rect x="408.60" y="288.71" width="6.87" height="3.01" fill="#bac5d4"/>
<rect x="408.60" y="291.43" width="6.87" height="3.01" fill="#e2c2c5"/>
<rect x="408.60" y="294.14" width="6.87" height="3.01" fill="#e2dfe1"/>
<rect x="408.60" y="296.85" width="6.87" height="3.01" fill="#e2e0e2"/>
<rect x="408.60" y="299.56" width="6.87" height="3.01" fill="#e2c9cb"/>
<rect x="408.60" y="302.28" width="6.87" height="3.01" fill="#c3ccd7"/>
<rect x="408.60" y="304.99" width="6.87" height="3.01" fill="#e2dee0"/>
<rect x="408.60" y="307.70" width="6.87" height="3.01" fill="#e2c0c3"/>
<rect x="408.60" y="310.41" width="6.87" height="3.01" fill="#c7cfd9"/>
<rect x="408.60" y="313.12" width="6.87" height="3.01" fill="#c3ccd7"/>
<rect x="408.60" y="315.84" width="6.87" height="3.01" fill="#bec8d5"/>
<rect x="408.60" y="318.55" width="6.87" height="3.01" fill="#c8cfd9"/>
<rect x="408.60" y="321.26" width="6.87" height="3.01" fill="#e2d3d5"/>
<rect x="408.60" y="323.98" width="6.87" height="3.01" fill="#e2a4a8"/>
<rect x="408.60" y="326.69" width="6.87" height="3.01" fill="#e2d6d8"/>
<rect x="408.60" y="329.40" width="6.87" height="3.01" fill="#e2d2d4"/>
<rect x="408.60" y="332.11" width="6.87" height="3.01" fill="#e29599"/>
<rect x="408.60" y="334.82" width="6.87" height="3.01" fill="#d2d7dd"/>
<rect x="408.60" y="337.54" width="6.87" height="3.01" fill="#e2e0e2"/>
<rect x="408.60" y="340.25" width="6.87" height="3.01" fill="#e2c7ca"/>
<rect x="408.60" y="342.96" width="6.87" height="3.01" fill="#e2c0c3"/>
<rect x="408.60" y="345.68" width="6.87" height="3.01" fill="#c6ced8"/>
<rect x="408.60" y="348.39" width="6.87" height="3.01" fill="#c1cad6"/>
<rect x="408.60" y="351.10" width="6.87" height="3.01" fill="#e2d7d9"/>
<rect x="408.60" y="353.81" width="6.87" height="3.01" fill="#aabacd"/>
<rect x="408.60" y="356.52" width="6.87" height="3.01" fill="#e2dcde"/>
<rect x="408.60" y="359.24" width="6.87" height="3.01" fill="#dadce0"/>
<rect x="408.60" y="361.95" width="6.87" height="3.01" fill="#e2d3d5"/>
<rect x="408.60" y="364.66" width="6.87" height="3.01" fill="#dadce1"/>
<rect x="408.60" y="367.38" width="6.87" height="3.01" fill="#dfe0e3"/>
<rect x="408.60" y="370.09" width="6.87" height="3.01" fill="#e2dbdd"/>
<rect x="408.60" y="372.80" width="6.87" height="3.01" fill="#e2c5c8"/>
<rect x="408.60" y="375.51" width="6.87" height="3.01" fill="#e2b0b3"/>
<rect x="408.60" y="378.23" width="6.87" height="3.01" fill="#e0e0e3"/>
<rect x="408.60" y="380.94" width="6.87" height="3.01" fill="#e2d2d4"/>
<rect x="408.60" y="383.65" width="6.87" height="3.01" fill="#d2d7dd"/>
<rect x="408.60" y="386.36" width="6.87" height="3.01" fill="#e2cdd0"/>
<rect x="408.60" y="389.07" width="6.87" height="3.01" fill="#e2dadc"/>
<rect x="408.60" y="391.79" width="6.87" height="3.01" fill="#e2b2b5"/>
<rect x="415.18" y="264.30" width="6.87" height="3.01" fill="#e2c2c5"/>
<rect x="415.18" y="267.01" width="6.87" height="3.01" fill="#e2b1b5"/>
<rect x="415.18" y="269.73" width="6.87" height="3.01" fill="#e2b0b4"/>
<rect x="415.18" y="272.44" width="6.87" height="3.01" fill="#dfe0e2"/>
<rect x="415.18" y="275.15" width="6.87" height="3.01" fill="#e2bdc0"/>
<rect x="415.18" y="277.86" width="6.87" height="3.01" fill="#e2cbcd"/>
<rect x="415.18" y="280.57" width="6.87" height="3.01" fill="#e29ea2"/>
<rect x="415.18" y="283.29" width="6.87" height="3.01" fill="#e2d2d4"/>
<rect x="415.18" y="286.00" width="6.87" height="3.01" fill="#dedfe2"/>
<rect x="415.18" y="288.71" width="6.87" height="3.01" fill="#e2b0b4"/>
<rect x="415.18" y="291.43" width="6.87" height="3.01" fill="#e2a8ac"/>
<rect x="415.18" y="294.14" width="6.87" height="3.01" fill="#e2c3c6"/>
<rect x="415.18" y="296.85" width="6.87" height="3.01" fill="#e27f84"/>
<rect x="415.18" y="299.56" width="6.87" height="3.01" fill="#e2bec1"/>
<rect x="415.18" y="302.28" width="6.87" height="3.01" fill="#e2a0a4"/>
<rect x="415.18" y="304.99" width="6.87" height="3.01" fill="#e2dfe1"/>
<rect x="415.18" y="307.70" width="6.87" height="3.01" fill="#e2dadc"/>
<rect x="415.18" y="310.41" width="6.87" height="3.01" fill="#e2c6c9"/>
<rect x="415.18" y="313.12" width="6.87" height="3.01" fill="#e2a3a7"/>
<rect x="415.18" y="315.84" width="6.87" height="3.01" fill="#e2bec1"/>
<rect x="415.18" y="318.55" width="6.87" height="3.01" fill="#e2a8ab"/>
<rect x="415.18" y="321.26" width="6.87" height="3.01" fill="#e2c8cb"/>
<rect x="415.18" y="323.98" width="6.87" height="3.01" fill="#e2a6a9"/>
<rect x="415.18" y="326.69" width="6.87" height="3.01" fill="#e2888d"/>
<rect x="415.18" y="329.40" width="6.87" height="3.01" fill="#e2c6c9"/>
<rect x="415.18" y="332.11" width="6.87" height="3.01" fill="#e3686e"/>
<rect x="415.18" y="334.82" width="6.87" height="3.01" fill="#e2ced1"/>
<rect x="415.18" y="337.54" width="6.87" height="3.01" fill="#e2a2a6"/>
<rect x="415.18" y="340.25" width="6.87" height="3.01" fill="#e2a9ad"/>
<rect x="415.18" y="342.96" width="6.87" height="3.01" fill="#e2898e"/>
<rect x="415.18" y="345.68" width="6.87" height="3.01" fill="#e2e0e2"/>
<rect x="415.18" y="348.39" width="6.87" height="3.01" fill="#cbd1db"/>
<rect x="415.18" y="351.10" width="6.87" height="3.01" fill="#e2a5a9"/>
<rect x="415.18" y="353.81" width="6.87" height="3.01" fill="#bbc6d4"/>
<rect x="415.18" y="356.52" width="6.87" height="3.01" fill="#e35e64"/>
<rect x="415.18" y="359.24" width="6.87" height="3.01" fill="#e2abaf"/>
<rect x="415.18" y="361.95" width="6.87" height="3.01" fill="#e2b1b4"/>
<rect x="415.18" y="364.66" width="6.87" height="3.01" fill="#e2a2a5"/>
<rect x="415.18" y="367.38" width="6.87" height="3.01" fill="#e2aeb2"/>
<rect x="415.18" y="370.09" width="6.87" height="3.01" fill="#e3757b"/>
<rect x="415.18" y="372.80" width="6.87" height="3.01" fill="#e1e1e3"/>
<rect x="415.18" y="375.51" width="6.87" height="3.01" fill="#e2bdc0"/>
<rect x="415.18" y="378.23" width="6.87" height="3.01" fill="#b2bfd1"/>
<rect x="415.18" y="380.94" width="6.87" height="3.01" fill="#e2aaae"/>
<rect x="415.18" y="383.65" width="6.87" height="3.01" fill="#e2bfc2"/>
<rect x="415.18" y="386.36" width="6.87" height="3.01" fill="#e28b8f"/>
<rect x="415.18" y="389.07" width="6.87" height="3.01" fill="#e2878c"/>
<rect x="415.18" y="391.79" width="6.87" height="3.01" fill="#e2b7bb"/>
<rect x="421.75" y="264.30" width="6.87" height="3.01" fill="#e2c3c6"/>
<rect x="421.75" y="267.01" width="6.87" height="3.01" fill="#e2c3c6"/>
<rect x="421.75" y="269.73" width="6.87" height="3.01" fill="#e2d5d7"/>
<rect x="421.75" y="272.44" width="6.87" height="3.01" fill="#e2cfd2"/>
<rect x="421.75" y="275.15" width="6.87" height="3.01" fill="#e2afb3"/>
<rect x="421.75" y="277.86" width="6.87" height="3.01" fill="#e2babd"/>
<rect x="421.75" y="280.57" width="6.87" height="3.01" fill="#e2acaf"/>
<rect x="421.75" y="283.29" width="6.87" height="3.01" fill="#e2babd"/>
<rect x="421.75" y="286.00" width="6.87" height="3.01" fill="#e29397"/>
<rect x="421.75" y="288.71" width="6.87" height="3.01" fill="#e2a8ab"/>
<rect x="421.75" y="291.43" width="6.87" height="3.01" fill="#e2b9bd"/>
<rect x="421.75" y="294.14" width="6.87" height="3.01" fill="#e2a3a7"/>
<rect x="421.75" y="296.85" width="6.87" height="3.01" fill="#e29297"/>
<rect x="421.75" y="299.56" width="6.87" height="3.01" fill="#e28489"/>
<rect x="421.75" y="302.28" width="6.87" height="3.01" fill="#e2a6aa"/>
<rect x="421.75" y="304.99" width="6.87" height="3.01" fill="#e2d1d4"/>
<rect x="421.75" y="307.70" width="6.87" height="3.01" fill="#e2a9ad"/>
<rect x="421.75" y="310.41" width="6.87" height="3.01" fill="#e2c0c3"/>
<rect x="421.75" y="313.12" width="6.87" height="3.01" fill="#d4d8de"/>
<rect x="421.75" y="315.84" width="6.87" height="3.01" fill="#e28d92"/>
<rect x="421.75" y="318.55" width="6.87" height="3.01" fill="#e2acb0"/>
<rect x="421.75" y="321.26" width="6.87" height="3.01" fill="#e29fa3"/>
<rect x="421.75" y="323.98" width="6.87" height="3.01" fill="#e2aeb1"/>
<rect x="421.75" y="326.69" width="6.87" height="3.01" fill="#e2c4c7"/>
<rect x="421.75" y="329.40" width="6.87" height="3.01" fill="#dfdfe2"/>
<rect x="421.75" y="332.11" width="6.87" height="3.01" fill="#e2989c"/>
<rect x="421.75" y="334.82" width="6.87" height="3.01" fill="#e2bfc2"/>
<rect x="421.75" y="337.54" width="6.87" height="3.01" fill="#e2b0b4"/>
<rect x="421.75" y="340.25" width="6.87" height="3.01" fill="#e2a9ad"/>
<rect x="421.75" y="342.96" width="6.87" height="3.01" fill="#e2abae"/>
<rect x="421.75" y="345.68" width="6.87" height="3.01" fill="#e2abaf"/>
<rect x="421.75" y="348.39" width="6.87" height="3.01" fill="#e2ccce"/>
<rect x="421.75" y="351.10" width="6.87" height="3.01" fill="#e2bec1"/>
<rect x="421.75" y="353.81" width="6.87" height="3.01" fill="#b2bfd1"/>
<rect x="421.75" y="356.52" width="6.87" height="3.01" fill="#e29ea2"/>
<rect x="421.75" y="359.24" width="6.87" height="3.01" fill="#e28e93"/>
<rect x="421.75" y="361.95" width="6.87" height="3.01" fill="#e2c9cb"/>
<rect x="421.75" y="364.66" width="6.87" height="3.01" fill="#e2c6c9"/>
<rect x="421.75" y="367.38" width="6.87" height="3.01" fill="#e28e93"/>
<rect x="421.75" y="370.09" width="6.87" height="3.01" fill="#e2b7ba"/>
<rect x="421.75" y="372.80" width="6.87" height="3.01" fill="#e2abaf"/>
<rect x="421.75" y="375.51" width="6.87" height="3.01" fill="#e28489"/>
<rect x="421.75" y="378.23" width="6.87" height="3.01" fill="#e2b4b7"/>
<rect x="421.75" y="380.94" width="6.87" height="3.01" fill="#e2a3a7"/>
<rect x="421.75" y="383.65" width="6.87" height="3.01" fill="#e2ced1"/>
<rect x="421.75" y="386.36" width="6.87" height="3.01" fill="#e2a6a9"/>
<rect x="421.75" y="389.07" width="6.87" height="3.01" fill="#e2d0d2"/>
<rect x="421.75" y="391.79" width="6.87" height="3.01" fill="#e2b9bc"/>
<rect x="428.32" y="264.30" width="6.87" height="3.01" fill="#e2a4a7"/>
<rect x="428.32" y="267.01" width="6.87" height="3.01" fill="#e3767b"/>
<rect x="428.32" y="269.73" width="6.87" height="3.01" fill="#e2dadc"/>
<rect x="428.32" y="272.44" width="6.87" height="3.01" fill="#e2d8da"/>
<rect x="428.32" y="275.15" width="6.87" height="3.01" fill="#e2bec1"/>
<rect x="428.32" y="277.86" width="6.87" height="3.01" fill="#dedfe2"/>
<rect x="428.32" y="280.57" width="6.87" height="3.01" fill="#e2a9ad"/>
<rect x="428.32" y="283.29" width="6.87" height="3.01" fill="#e2aeb1"/>
<rect x="428.32" y="286.00" width="6.87" height="3.01" fill="#e2c1c4"/>
<rect x="428.32" y="288.71" width="6.87" height="3.01" fill="#e2b1b4"/>
<rect x="428.32" y="291.43" width="6.87" height="3.01" fill="#d6dadf"/>
<rect x="428.32" y="294.14" width="6.87" height="3.01" fill="#e2aaae"/>
<rect x="428.32" y="296.85" width="6.87" height="3.01" fill="#c4cdd8"/>
<rect x="428.32" y="299.56" width="6.87" height="3.01" fill="#e2d0d2"/>
<rect x="428.32" y="302.28" width="6.87" height="3.01" fill="#e2cfd1"/>
<rect x="428.32" y="304.99" width="6.87" height="3.01" fill="#e2cacd"/>
<rect x="428.32" y="307.70" width="6.87" height="3.01" fill="#e2babd"/>
<rect x="428.32" y="310.41" width="6.87" height="3.01" fill="#e2d2d5"/>
<rect x="428.32" y="313.12" width="6.87" height="3.01" fill="#e2d8db"/>
<rect x="428.32" y="315.84" width="6.87" height="3.01" fill="#e2b7bb"/>
<rect x="428.32" y="318.55" width="6.87" height="3.01" fill="#e29095"/>
<rect x="428.32" y="321.26" width="6.87" height="3.01" fill="#e2c3c6"/>
<rect x="428.32" y="323.98" width="6.87" height="3.01" fill="#e2b3b6"/>
<rect x="428.32" y="326.69" width="6.87" height="3.01" fill="#e2a4a8"/>
<rect x="428.32" y="329.40" width="6.87" height="3.01" fill="#e2b8bb"/>
<rect x="428.32" y="332.11" width="6.87" height="3.01" fill="#dddfe2"/>
<rect x="428.32" y="334.82" width="6.87" height="3.01" fill="#e27e83"/>
<rect x="428.32" y="337.54" width="6.87" height="3.01" fill="#e36f74"/>
<rect x="428.32" y="340.25" width="6.87" height="3.01" fill="#ccd2db"/>
<rect x="428.32" y="342.96" width="6.87" height="3.01" fill="#e2b8bc"/>
<rect x="428.32" y="345.68" width="6.87" height="3.01" fill="#e2bdc0"/>
<rect x="428.32" y="348.39" width="6.87" height="3.01" fill="#e2adb1"/>
<rect x="428.32" y="351.10" width="6.87" height="3.01" fill="#e2b2b6"/>
<rect x="428.32" y="353.81" width="6.87" height="3.01" fill="#acbbce"/>
<rect x="428.32" y="356.52" width="6.87" height="3.01" fill="#e2babd"/>
<rect x="428.32" y="359.24" width="6.87" height="3.01" fill="#e2a1a5"/>
<rect x="428.32" y="361.95" width="6.87" height="3.01" fill="#dbdde1"/>
<rect x="428.32" y="364.66" width="6.87" height="3.01" fill="#d8dbe0"/>
<rect x="428.32" y="367.38" width="6.87" height="3.01" fill="#e2c9cc"/>
<rect x="428.32" y="370.09" width="6.87" height="3.01" fill="#d3d7de"/>
<rect x="428.32" y="372.80" width="6.87" height="3.01" fill="#e2d3d6"/>
<rect x="428.32" y="375.51" width="6.87" height="3.01" fill="#e2ced1"/>
<rect x="428.32" y="378.23" width="6.87" height="3.01" fill="#e2b1b5"/>
<rect x="428.32" y="380.94" width="6.87" height="3.01" fill="#dcdee1"/>
<rect x="428.32" y="383.65" width="6.87" height="3.01" fill="#e2dde0"/>
<rect x="428.32" y="386.36" width="6.87" height="3.01" fill="#e2c2c5"/>
<rect x="428.32" y="389.07" width="6.87" height="3.01" fill="#e2d9db"/>
<rect x="428.32" y="391.79" width="6.87" height="3.01" fill="#e2dbdd"/>
<rect x="434.90" y="264.30" width="6.98" height="3.01" fill="#a2b4ca"/>
<rect x="434.90" y="267.01" width="6.98" height="3.01" fill="#b7c3d3"/>
<rect x="434.90" y="269.73" width="6.98" height="3.01" fill="#b9c4d3"/>
<rect x="434.90" y="272.44" width="6.98" height="3.01" fill="#c2cbd7"/>
<rect x="434.90" y="275.15" width="6.98" height="3.01" fill="#8da5c2"/>
<rect x="434.90" y="277.86" width="6.98" height="3.01" fill="#9aaec7"/>
<rect x="434.90" y="280.57" width="6.98" height="3.01" fill="#7e9abc"/>
<rect x="434.90" y="283.29" width="6.98" height="3.01" fill="#ccd2db"/>
<rect x="434.90" y="286.00" width="6.98" height="3.01" fill="#9fb2c9"/>
<rect x="434.90" y="288.71" width="6.98" height="3.01" fill="#a5b7cc"/>
<rect x="434.90" y="291.43" width="6.98" height="3.01" fill="#b1bfd0"/>
<rect x="434.90" y="294.14" width="6.98" height="3.01" fill="#8ba4c1"/>
<rect x="434.90" y="296.85" width="6.98" height="3.01" fill="#e2878c"/>
<rect x="434.90" y="299.56" width="6.98" height="3.01" fill="#88a1c0"/>
<rect x="434.90" y="302.28" width="6.98" height="3.01" fill="#aebdcf"/>
<rect x="434.90" y="304.99" width="6.98" height="3.01" fill="#bfc9d6"/>
<rect x="434.90" y="307.70" width="6.98" height="3.01" fill="#7191b7"/>
<rect x="434.90" y="310.41" width="6.98" height="3.01" fill="#a4b6cb"/>
<rect x="434.90" y="313.12" width="6.98" height="3.01" fill="#a0b3c9"/>
<rect x="434.90" y="315.84" width="6.98" height="3.01" fill="#a9b9cd"/>
<rect x="434.90" y="318.55" width="6.98" height="3.01" fill="#afbdcf"/>
<rect x="434.90" y="321.26" width="6.98" height="3.01" fill="#bdc7d5"/>
<rect x="434.90" y="323.98" width="6.98" height="3.01" fill="#a4b6cb"/>
<rect x="434.90" y="326.69" width="6.98" height="3.01" fill="#afbdcf"/>
<rect x="434.90" y="329.40" width="6.98" height="3.01" fill="#9fb2c9"/>
<rect x="434.90" y="332.11" width="6.98" height="3.01" fill="#b5c2d2"/>
<rect x="434.90" y="334.82" width="6.98" height="3.01" fill="#8ea6c2"/>
<rect x="434.90" y="337.54" width="6.98" height="3.01" fill="#b1bfd0"/>
<rect x="434.90" y="340.25" width="6.98" height="3.01" fill="#cad1da"/>
<rect x="434.90" y="342.96" width="6.98" height="3.01" fill="#b7c3d3"/>
<rect x="434.90" y="345.68" width="6.98" height="3.01" fill="#9bafc8"/>
<rect x="434.90" y="348.39" width="6.98" height="3.01" fill="#87a1c0"/>
<rect x="434.90" y="351.10" width="6.98" height="3.01" fill="#92a8c4"/>
<rect x="434.90" y="353.81" width="6.98" height="3.01" fill="#a7b7cc"/>
<rect x="434.90" y="356.52" width="6.98" height="3.01" fill="#bcc6d4"/>
<rect x="434.90" y="359.24" width="6.98" height="3.01" fill="#aebdcf"/>
<rect x="434.90" y="361.95" width="6.98" height="3.01" fill="#aabacd"/>
<rect x="434.90" y="364.66" width="6.98" height="3.01" fill="#9bafc7"/>
<rect x="434.90" y="367.38" width="6.98" height="3.01" fill="#b9c5d4"/>
<rect x="434.90" y="370.09" width="6.98" height="3.01" fill="#a7b8cc"/>
<rect x="434.90" y="372.80" width="6.98" height="3.01" fill="#92a9c4"/>
<rect x="434.90" y="375.51" width="6.98" height="3.01" fill="#b7c3d3"/>
<rect x="434.90" y="378.23" width="6.98" height="3.01" fill="#a9b9cd"/>
<rect x="434.90" y="380.94" width="6.98" height="3.01" fill="#91a8c4"/>
<rect x="434.90" y="383.65" width="6.98" height="3.01" fill="#99aec7"/>
<rect x="434.90" y="386.36" width="6.98" height="3.01" fill="#aabace"/>
<rect x="434.90" y="389.07" width="6.98" height="3.01" fill="#9eb1c9"/>
<rect x="434.90" y="391.79" width="6.98" height="3.01" fill="#a8b8cd"/>
<rect x="441.57" y="264.30" width="6.98" height="3.01" fill="#8aa3c1"/>
<rect x="441.57" y="267.01" width="6.98" height="3.01" fill="#b1bfd0"/>
<rect x="441.57" y="269.73" width="6.98" height="3.01" fill="#a5b6cc"/>
<rect x="441.57" y="272.44" width="6.98" height="3.01" fill="#8ea6c2"/>
<rect x="441.57" y="275.15" width="6.98" height="3.01" fill="#abbace"/>
<rect x="441.57" y="277.86" width="6.98" height="3.01" fill="#9db0c8"/>
<rect x="441.57" y="280.57" width="6.98" height="3.01" fill="#a7b8cc"/>
<rect x="441.57" y="283.29" width="6.98" height="3.01" fill="#b7c3d3"/>
<rect x="441.57" y="286.00" width="6.98" height="3.01" fill="#c7ced9"/>
<rect x="441.57" y="288.71" width="6.98" height="3.01" fill="#99adc7"/>
<rect x="441.57" y="291.43" width="6.98" height="3.01" fill="#b0bed0"/>
<rect x="441.57" y="294.14" width="6.98" height="3.01" fill="#95aac5"/>
<rect x="441.57" y="296.85" width="6.98" height="3.01" fill="#e28c90"/>
<rect x="441.57" y="299.56" width="6.98" height="3.01" fill="#c3cbd7"/>
<rect x="441.57" y="302.28" width="6.98" height="3.01" fill="#9cb0c8"/>
<rect x="441.57" y="304.99" width="6.98" height="3.01" fill="#b8c4d3"/>
<rect x="441.57" y="307.70" width="6.98" height="3.01" fill="#c0c9d6"/>
<rect x="441.57" y="310.41" width="6.98" height="3.01" fill="#6387b1"/>
<rect x="441.57" y="313.12" width="6.98" height="3.01" fill="#94aac5"/>
<rect x="441.57" y="315.84" width="6.98" height="3.01" fill="#a9b9cd"/>
<rect x="441.57" y="318.55" width="6.98" height="3.01" fill="#a5b6cb"/>
<rect x="441.57" y="321.26" width="6.98" height="3.01" fill="#97acc6"/>
<rect x="441.57" y="323.98" width="6.98" height="3.01" fill="#d2d7dd"/>
<rect x="441.57" y="326.69" width="6.98" height="3.01" fill="#a0b2c9"/>
<rect x="441.57" y="329.40" width="6.98" height="3.01" fill="#87a1bf"/>
<rect x="441.57" y="332.11" width="6.98" height="3.01" fill="#b8c4d3"/>
<rect x="441.57" y="334.82" width="6.98" height="3.01" fill="#7d99bb"/>
<rect x="441.57" y="337.54" width="6.98" height="3.01" fill="#c9d0da"/>
<rect x="441.57" y="340.25" width="6.98" height="3.01" fill="#9eb1c8"/>
<rect x="441.57" y="342.96" width="6.98" height="3.01" fill="#b1bfd0"/>
<rect x="441.57" y="345.68" width="6.98" height="3.01" fill="#b7c3d3"/>
<rect x="441.57" y="348.39" width="6.98" height="3.01" fill="#a0b2c9"/>
<rect x="441.57" y="351.10" width="6.98" height="3.01" fill="#86a0bf"/>
<rect x="441.57" y="353.81" width="6.98" height="3.01" fill="#829dbe"/>
<rect x="441.57" y="356.52" width="6.98" height="3.01" fill="#c0cad6"/>
<rect x="441.57" y="359.24" width="6.98" height="3.01" fill="#b4c1d2"/>
<rect x="441.57" y="361.95" width="6.98" height="3.01" fill="#90a7c3"/>
<rect x="441.57" y="364.66" width="6.98" height="3.01" fill="#acbbce"/>
<rect x="441.57" y="367.38" width="6.98" height="3.01" fill="#a9b9cd"/>
<rect x="441.57" y="370.09" width="6.98" height="3.01" fill="#bbc6d4"/>
<rect x="441.57" y="372.80" width="6.98" height="3.01" fill="#7191b7"/>
<rect x="441.57" y="375.51" width="6.98" height="3.01" fill="#a0b3ca"/>
<rect x="441.57" y="378.23" width="6.98" height="3.01" fill="#b9c5d3"/>
<rect x="441.57" y="380.94" width="6.98" height="3.01" fill="#a5b6cb"/>
<rect x="441.57" y="383.65" width="6.98" height="3.01" fill="#b5c2d2"/>
<rect x="441.57" y="386.36" width="6.98" height="3.01" fill="#809cbd"/>
<rect x="441.57" y="389.07" width="6.98" height="3.01" fill="#95abc5"/>
<rect x="441.57" y="391.79" width="6.98" height="3.01" fill="#abbace"/>
<rect x="448.25" y="264.30" width="6.98" height="3.01" fill="#e2cfd1"/>
<rect x="448.25" y="267.01" width="6.98" height="3.01" fill="#b5c1d2"/>
<rect x="448.25" y="269.73" width="6.98" height="3.01" fill="#bac5d4"/>
<rect x="448.25" y="272.44" width="6.98" height="3.01" fill="#c1cad6"/>
<rect x="448.25" y="275.15" width="6.98" height="3.01" fill="#ccd2db"/>
<rect x="448.25" y="277.86" width="6.98" height="3.01" fill="#b8c4d3"/>
<rect x="448.25" y="280.57" width="6.98" height="3.01" fill="#e2e0e2"/>
<rect x="448.25" y="283.29" width="6.98" height="3.01" fill="#b7c3d3"/>
<rect x="448.25" y="286.00" width="6.98" height="3.01" fill="#d1d6dd"/>
<rect x="448.25" y="288.71" width="6.98" height="3.01" fill="#bbc6d4"/>
<rect x="448.25" y="291.43" width="6.98" height="3.01" fill="#c9d0da"/>
<rect x="448.25" y="294.14" width="6.98" height="3.01" fill="#b7c3d3"/>
<rect x="448.25" y="296.85" width="6.98" height="3.01" fill="#95abc5"/>
<rect x="448.25" y="299.56" width="6.98" height="3.01" fill="#dfe0e3"/>
<rect x="448.25" y="302.28" width="6.98" height="3.01" fill="#cdd3db"/>
<rect x="448.25" y="304.99" width="6.98" height="3.01" fill="#bcc7d5"/>
<rect x="448.25" y="307.70" width="6.98" height="3.01" fill="#b8c4d3"/>
<rect x="448.25" y="310.41" width="6.98" height="3.01" fill="#c7ced9"/>
<rect x="448.25" y="313.12" width="6.98" height="3.01" fill="#a8b8cd"/>
<rect x="448.25" y="315.84" width="6.98" height="3.01" fill="#bcc7d5"/>
<rect x="448.25" y="318.55" width="6.98" height="3.01" fill="#d0d5dc"/>
<rect x="448.25" y="321.26" width="6.98" height="3.01" fill="#ccd2db"/>
<rect x="448.25" y="323.98" width="6.98" height="3.01" fill="#c1cad6"/>
<rect x="448.25" y="326.69" width="6.98" height="3.01" fill="#94aac5"/>
<rect x="448.25" y="329.40" width="6.98" height="3.01" fill="#dddfe2"/>
<rect x="448.25" y="332.11" width="6.98" height="3.01" fill="#cdd2db"/>
<rect x="448.25" y="334.82" width="6.98" height="3.01" fill="#bdc7d5"/>
<rect x="448.25" y="337.54" width="6.98" height="3.01" fill="#ccd2db"/>
<rect x="448.25" y="340.25" width="6.98" height="3.01" fill="#cdd3db"/>
<rect x="448.25" y="342.96" width="6.98" height="3.01" fill="#c5cdd8"/>
<rect x="448.25" y="345.68" width="6.98" height="3.01" fill="#a9b9cd"/>
<rect x="448.25" y="348.39" width="6.98" height="3.01" fill="#aebdcf"/>
<rect x="448.25" y="351.10" width="6.98" height="3.01" fill="#b4c1d1"/>
<rect x="448.25" y="353.81" width="6.98" height="3.01" fill="#b6c2d2"/>
<rect x="448.25" y="356.52" width="6.98" height="3.01" fill="#b2bfd1"/>
<rect x="448.25" y="359.24" width="6.98" height="3.01" fill="#d1d6dd"/>
<rect x="448.25" y="361.95" width="6.98" height="3.01" fill="#a5b6cc"/>
<rect x="448.25" y="364.66" width="6.98" height="3.01" fill="#c7cfd9"/>
<rect x="448.25" y="367.38" width="6.98" height="3.01" fill="#aabace"/>
<rect x="448.25" y="370.09" width="6.98" height="3.01" fill="#d4d8de"/>
<rect x="448.25" y="372.80" width="6.98" height="3.01" fill="#d6d9df"/>
<rect x="448.25" y="375.51" width="6.98" height="3.01" fill="#c9d0da"/>
<rect x="448.25" y="378.23" width="6.98" height="3.01" fill="#b8c4d3"/>
<rect x="448.25" y="380.94" width="6.98" height="3.01" fill="#b7c3d2"/>
<rect x="448.25" y="383.65" width="6.98" height="3.01" fill="#c6ced9"/>
<rect x="448.25" y="386.36" width="6.98" height="3.01" fill="#adbcce"/>
<rect x="448.25" y="389.07" width="6.98" height="3.01" fill="#a5b6cc"/>
<rect x="448.25" y="391.79" width="6.98" height="3.01" fill="#c3ccd7"/>
<rect x="454.93" y="264.30" width="6.98" height="3.01" fill="#94aac5"/>
<rect x="454.93" y="267.01" width="6.98" height="3.01" fill="#a6b7cc"/>
<rect x="454.93" y="269.73" width="6.98" height="3.01" fill="#acbbce"/>
<rect x="454.93" y="272.44" width="6.98" height="3.01" fill="#acbbce"/>
<rect x="454.93" y="275.15" width="6.98" height="3.01" fill="#a9b9cd"/>
<rect x="454.93" y="277.86" width="6.98" height="3.01" fill="#a9b9cd"/>
<rect x="454.93" y="280.57" width="6.98" height="3.01" fill="#a4b5cb"/>
<rect x="454.93" y="283.29" width="6.98" height="3.01" fill="#a3b5cb"/>
<rect x="454.93" y="286.00" width="6.98" height="3.01" fill="#a3b5cb"/>
<rect x="454.93" y="288.71" width="6.98" height="3.01" fill="#9cafc8"/>
<rect x="454.93" y="291.43" width="6.98" height="3.01" fill="#9fb2c9"/>
<rect x="454.93" y="294.14" width="6.98" height="3.01" fill="#809cbd"/>
<rect x="454.93" y="296.85" width="6.98" height="3.01" fill="#e3696e"/>
<rect x="454.93" y="299.56" width="6.98" height="3.01" fill="#94aac5"/>
<rect x="454.93" y="302.28" width="6.98" height="3.01" fill="#a3b5cb"/>
<rect x="454.93" y="304.99" width="6.98" height="3.01" fill="#aebdcf"/>
<rect x="454.93" y="307.70" width="6.98" height="3.01" fill="#8da5c2"/>
<rect x="454.93" y="310.41" width="6.98" height="3.01" fill="#b8c4d3"/>
<rect x="454.93" y="313.12" width="6.98" height="3.01" fill="#6589b2"/>
<rect x="454.93" y="315.84" width="6.98" height="3.01" fill="#97acc6"/>
<rect x="454.93" y="318.55" width="6.98" height="3.01" fill="#7f9bbc"/>
<rect x="454.93" y="321.26" width="6.98" height="3.01" fill="#b2c0d1"/>
<rect x="454.93" y="323.98" width="6.98" height="3.01" fill="#d7dae0"/>
<rect x="454.93" y="326.69" width="6.98" height="3.01" fill="#698cb4"/>
<rect x="454.93" y="329.40" width="6.98" height="3.01" fill="#a5b6cb"/>
<rect x="454.93" y="332.11" width="6.98" height="3.01" fill="#adbccf"/>
<rect x="454.93" y="334.82" width="6.98" height="3.01" fill="#94aac5"/>
<rect x="454.93" y="337.54" width="6.98" height="3.01" fill="#b9c5d4"/>
<rect x="454.93" y="340.25" width="6.98" height="3.01" fill="#7997ba"/>
<rect x="454.93" y="342.96" width="6.98" height="3.01" fill="#bbc6d4"/>
<rect x="454.93" y="345.68" width="6.98" height="3.01" fill="#a1b3ca"/>
<rect x="454.93" y="348.39" width="6.98" height="3.01" fill="#99aec7"/>
<rect x="454.93" y="351.10" width="6.98" height="3.01" fill="#91a8c4"/>
<rect x="454.93" y="353.81" width="6.98" height="3.01" fill="#abbace"/>
<rect x="454.93" y="356.52" width="6.98" height="3.01" fill="#9cb0c8"/>
<rect x="454.93" y="359.24" width="6.98" height="3.01" fill="#a6b7cc"/>
<rect x="454.93" y="361.95" width="6.98" height="3.01" fill="#92a8c4"/>
<rect x="454.93" y="364.66" width="6.98" height="3.01" fill="#6c8db5"/>
<rect x="454.93" y="367.38" width="6.98" height="3.01" fill="#9aafc7"/>
<rect x="454.93" y="370.09" width="6.98" height="3.01" fill="#aebdcf"/>
<rect x="454.93" y="372.80" width="6.98" height="3.01" fill="#a7b8cc"/>
<rect x="454.93" y="375.51" width="6.98" height="3.01" fill="#91a8c3"/>
<rect x="454.93" y="378.23" width="6.98" height="3.01" fill="#a3b4ca"/>
<rect x="454.93" y="380.94" width="6.98" height="3.01" fill="#9eb1c9"/>
<rect x="454.93" y="383.65" width="6.98" height="3.01" fill="#a3b5cb"/>
<rect x="454.93" y="386.36" width="6.98" height="3.01" fill="#c3ccd7"/>
<rect x="454.93" y="389.07" width="6.98" height="3.01" fill="#b4c1d2"/>
<rect x="454.93" y="391.79" width="6.98" height="3.01" fill="#8ba4c1"/>
<rect x="461.60" y="264.30" width="6.70" height="3.01" fill="#e3676c"/>
<rect x="461.60" y="267.01" width="6.70" height="3.01" fill="#e41820"/>
<rect x="461.60" y="269.73" width="6.70" height="3.01" fill="#e41820"/>
<rect x="461.60" y="272.44" width="6.70" height="3.01" fill="#e41820"/>
<rect x="461.60" y="275.15" width="6.70" height="3.01" fill="#e41820"/>
<rect x="461.60" y="277.86" width="6.70" height="3.01" fill="#e2b6b9"/>
<rect x="461.60" y="280.57" width="6.70" height="3.01" fill="#e41820"/>
<rect x="461.60" y="283.29" width="6.70" height="3.01" fill="#e3353c"/>
<rect x="461.60" y="286.00" width="6.70" height="3.01" fill="#e3555b"/>
<rect x="461.60" y="288.71" width="6.70" height="3.01" fill="#e33a41"/>
<rect x="461.60" y="291.43" width="6.70" height="3.01" fill="#e41820"/>
<rect x="461.60" y="294.14" width="6.70" height="3.01" fill="#e41820"/>
<rect x="461.60" y="296.85" width="6.70" height="3.01" fill="#e2c0c3"/>
<rect x="461.60" y="299.56" width="6.70" height="3.01" fill="#e41820"/>
<rect x="461.60" y="302.28" width="6.70" height="3.01" fill="#e32d34"/>
<rect x="461.60" y="304.99" width="6.70" height="3.01" fill="#e41820"/>
<rect x="461.60" y="307.70" width="6.70" height="3.01" fill="#e3272e"/>
<rect x="461.60" y="310.41" width="6.70" height="3.01" fill="#e35258"/>
<rect x="461.60" y="313.12" width="6.70" height="3.01" fill="#e41820"/>
<rect x="461.60" y="315.84" width="6.70" height="3.01" fill="#e33037"/>
<rect x="461.60" y="318.55" width="6.70" height="3.01" fill="#e41820"/>
<rect x="461.60" y="321.26" width="6.70" height="3.01" fill="#e41820"/>
<rect x="461.60" y="323.98" width="6.70" height="3.01" fill="#e31b22"/>
<rect x="461.60" y="326.69" width="6.70" height="3.01" fill="#e41820"/>
<rect x="461.60" y="329.40" width="6.70" height="3.01" fill="#e2b8bb"/>
<rect x="461.60" y="332.11" width="6.70" height="3.01" fill="#e36c72"/>
<rect x="461.60" y="334.82" width="6.70" height="3.01" fill="#e34f55"/>
<rect x="461.60" y="337.54" width="6.70" height="3.01" fill="#e32129"/>
<rect x="461.60" y="340.25" width="6.70" height="3.01" fill="#e41820"/>
<rect x="461.60" y="342.96" width="6.70" height="3.01" fill="#e41820"/>
<rect x="461.60" y="345.68" width="6.70" height="3.01" fill="#e41820"/>
<rect x="461.60" y="348.39" width="6.70" height="3.01" fill="#e41820"/>
<rect x="461.60" y="351.10" width="6.70" height="3.01" fill="#e3383f"/>
<rect x="461.60" y="353.81" width="6.70" height="3.01" fill="#e33239"/>
<rect x="461.60" y="356.52" width="6.70" height="3.01" fill="#e3666c"/>
<rect x="461.60" y="359.24" width="6.70" height="3.01" fill="#e41820"/>
<rect x="461.60" y="361.95" width="6.70" height="3.01" fill="#e41820"/>
<rect x="461.60" y="364.66" width="6.70" height="3.01" fill="#e41820"/>
<rect x="461.60" y="367.38" width="6.70" height="3.01" fill="#e29da1"/>
<rect x="461.60" y="370.09" width="6.70" height="3.01" fill="#e41820"/>
<rect x="461.60" y="372.80" width="6.70" height="3.01" fill="#e31a22"/>
<rect x="461.60" y="375.51" width="6.70" height="3.01" fill="#e41820"/>
<rect x="461.60" y="378.23" width="6.70" height="3.01" fill="#e41820"/>
<rect x="461.60" y="380.94" width="6.70" height="3.01" fill="#e31820"/>
<rect x="461.60" y="383.65" width="6.70" height="3.01" fill="#e41820"/>
<rect x="461.60" y="386.36" width="6.70" height="3.01" fill="#e31e25"/>
<rect x="461.60" y="389.07" width="6.70" height="3.01" fill="#e3363d"/>
<rect x="461.60" y="391.79" width="6.70" height="3.01" fill="#e3383f"/>
<rect x="468.00" y="264.30" width="6.70" height="3.01" fill="#e3373e"/>
<rect x="468.00" y="267.01" width="6.70" height="3.01" fill="#e41820"/>
<rect x="468.00" y="269.73" width="6.70" height="3.01" fill="#e41820"/>
<rect x="468.00" y="272.44" width="6.70" height="3.01" fill="#e41820"/>
<rect x="468.00" y="275.15" width="6.70" height="3.01" fill="#e41820"/>
<rect x="468.00" y="277.86" width="6.70" height="3.01" fill="#e41820"/>
<rect x="468.00" y="280.57" width="6.70" height="3.01" fill="#e41820"/>
<rect x="468.00" y="283.29" width="6.70" height="3.01" fill="#e41820"/>
<rect x="468.00" y="286.00" width="6.70" height="3.01" fill="#e33e44"/>
<rect x="468.00" y="288.71" width="6.70" height="3.01" fill="#e32b32"/>
<rect x="468.00" y="291.43" width="6.70" height="3.01" fill="#e41820"/>
<rect x="468.00" y="294.14" width="6.70" height="3.01" fill="#e41820"/>
<rect x="468.00" y="296.85" width="6.70" height="3.01" fill="#e31f27"/>
<rect x="468.00" y="299.56" width="6.70" height="3.01" fill="#e32e36"/>
<rect x="468.00" y="302.28" width="6.70" height="3.01" fill="#e31c24"/>
<rect x="468.00" y="304.99" width="6.70" height="3.01" fill="#e32931"/>
<rect x="468.00" y="307.70" width="6.70" height="3.01" fill="#e3484f"/>
<rect x="468.00" y="310.41" width="6.70" height="3.01" fill="#e41820"/>
<rect x="468.00" y="313.12" width="6.70" height="3.01" fill="#e3363d"/>
<rect x="468.00" y="315.84" width="6.70" height="3.01" fill="#e41820"/>
<rect x="468.00" y="318.55" width="6.70" height="3.01" fill="#e41820"/>
<rect x="468.00" y="321.26" width="6.70" height="3.01" fill="#e41820"/>
<rect x="468.00" y="323.98" width="6.70" height="3.01" fill="#e41820"/>
<rect x="468.00" y="326.69" width="6.70" height="3.01" fill="#e3333a"/>
<rect x="468.00" y="329.40" width="6.70" height="3.01" fill="#e41820"/>
<rect x="468.00" y="332.11" width="6.70" height="3.01" fill="#e41820"/>
<rect x="468.00" y="334.82" width="6.70" height="3.01" fill="#e41820"/>
<rect x="468.00" y="337.54" width="6.70" height="3.01" fill="#e41820"/>
<rect x="468.00" y="340.25" width="6.70" height="3.01" fill="#e41820"/>
<rect x="468.00" y="342.96" width="6.70" height="3.01" fill="#e41820"/>
<rect x="468.00" y="345.68" width="6.70" height="3.01" fill="#e32129"/>
<rect x="468.00" y="348.39" width="6.70" height="3.01" fill="#e41820"/>
<rect x="468.00" y="351.10" width="6.70" height="3.01" fill="#e41820"/>
<rect x="468.00" y="353.81" width="6.70" height="3.01" fill="#e35057"/>
<rect x="468.00" y="356.52" width="6.70" height="3.01" fill="#e41820"/>
<rect x="468.00" y="359.24" width="6.70" height="3.01" fill="#e41820"/>
<rect x="468.00" y="361.95" width="6.70" height="3.01" fill="#e32f36"/>
<rect x="468.00" y="364.66" width="6.70" height="3.01" fill="#e32931"/>
<rect x="468.00" y="367.38" width="6.70" height="3.01" fill="#e41820"/>
<rect x="468.00" y="370.09" width="6.70" height="3.01" fill="#e41820"/>
<rect x="468.00" y="372.80" width="6.70" height="3.01" fill="#e41820"/>
<rect x="468.00" y="375.51" width="6.70" height="3.01" fill="#e41820"/>
<rect x="468.00" y="378.23" width="6.70" height="3.01" fill="#e35056"/>
<rect x="468.00" y="380.94" width="6.70" height="3.01" fill="#e41820"/>
<rect x="468.00" y="383.65" width="6.70" height="3.01" fill="#e41820"/>
<rect x="468.00" y="386.36" width="6.70" height="3.01" fill="#e41820"/>
<rect x="468.00" y="389.07" width="6.70" height="3.01" fill="#e3565c"/>
<rect x="468.00" y="391.79" width="6.70" height="3.01" fill="#e31820"/>
<rect x="474.40" y="264.30" width="6.70" height="3.01" fill="#e2999e"/>
<rect x="474.40" y="267.01" width="6.70" height="3.01" fill="#e2b4b8"/>
<rect x="474.40" y="269.73" width="6.70" height="3.01" fill="#e3696f"/>
<rect x="474.40" y="272.44" width="6.70" height="3.01" fill="#e36065"/>
<rect x="474.40" y="275.15" width="6.70" height="3.01" fill="#e2969a"/>
<rect x="474.40" y="277.86" width="6.70" height="3.01" fill="#e32e35"/>
<rect x="474.40" y="280.57" width="6.70" height="3.01" fill="#e3797e"/>
<rect x="474.40" y="283.29" width="6.70" height="3.01" fill="#e2b1b5"/>
<rect x="474.40" y="286.00" width="6.70" height="3.01" fill="#e3666b"/>
<rect x="474.40" y="288.71" width="6.70" height="3.01" fill="#e2868b"/>
<rect x="474.40" y="291.43" width="6.70" height="3.01" fill="#e28f94"/>
<rect x="474.40" y="294.14" width="6.70" height="3.01" fill="#e2c0c3"/>
<rect x="474.40" y="296.85" width="6.70" height="3.01" fill="#e2abaf"/>
<rect x="474.40" y="299.56" width="6.70" height="3.01" fill="#e3656b"/>
<rect x="474.40" y="302.28" width="6.70" height="3.01" fill="#e3272e"/>
<rect x="474.40" y="304.99" width="6.70" height="3.01" fill="#e3464d"/>
<rect x="474.40" y="307.70" width="6.70" height="3.01" fill="#e28085"/>
<rect x="474.40" y="310.41" width="6.70" height="3.01" fill="#e3747a"/>
<rect x="474.40" y="313.12" width="6.70" height="3.01" fill="#e3767c"/>
<rect x="474.40" y="315.84" width="6.70" height="3.01" fill="#e36f74"/>
<rect x="474.40" y="318.55" width="6.70" height="3.01" fill="#e3464d"/>
<rect x="474.40" y="321.26" width="6.70" height="3.01" fill="#e36d72"/>
<rect x="474.40" y="323.98" width="6.70" height="3.01" fill="#e2c9cc"/>
<rect x="474.40" y="326.69" width="6.70" height="3.01" fill="#e37075"/>
<rect x="474.40" y="329.40" width="6.70" height="3.01" fill="#e28b8f"/>
<rect x="474.40" y="332.11" width="6.70" height="3.01" fill="#e3494f"/>
<rect x="474.40" y="334.82" width="6.70" height="3.01" fill="#e2898d"/>
<rect x="474.40" y="337.54" width="6.70" height="3.01" fill="#e35157"/>
<rect x="474.40" y="340.25" width="6.70" height="3.01" fill="#e41820"/>
<rect x="474.40" y="342.96" width="6.70" height="3.01" fill="#e2898d"/>
<rect x="474.40" y="345.68" width="6.70" height="3.01" fill="#e29ea2"/>
<rect x="474.40" y="348.39" width="6.70" height="3.01" fill="#e2acaf"/>
<rect x="474.40" y="351.10" width="6.70" height="3.01" fill="#e2d1d4"/>
<rect x="474.40" y="353.81" width="6.70" height="3.01" fill="#e2b9bc"/>
<rect x="474.40" y="356.52" width="6.70" height="3.01" fill="#e35259"/>
<rect x="474.40" y="359.24" width="6.70" height="3.01" fill="#e28186"/>
<rect x="474.40" y="361.95" width="6.70" height="3.01" fill="#e2bcbf"/>
<rect x="474.40" y="364.66" width="6.70" height="3.01" fill="#e2b1b4"/>
<rect x="474.40" y="367.38" width="6.70" height="3.01" fill="#e3535a"/>
<rect x="474.40" y="370.09" width="6.70" height="3.01" fill="#e27d82"/>
<rect x="474.40" y="372.80" width="6.70" height="3.01" fill="#e2a2a5"/>
<rect x="474.40" y="375.51" width="6.70" height="3.01" fill="#e32c34"/>
<rect x="474.40" y="378.23" width="6.70" height="3.01" fill="#e41820"/>
<rect x="474.40" y="380.94" width="6.70" height="3.01" fill="#e34c52"/>
<rect x="474.40" y="383.65" width="6.70" height="3.01" fill="#e36268"/>
<rect x="474.40" y="386.36" width="6.70" height="3.01" fill="#e3535a"/>
<rect x="474.40" y="389.07" width="6.70" height="3.01" fill="#e33037"/>
<rect x="474.40" y="391.79" width="6.70" height="3.01" fill="#e32f36"/>
<rect x="480.80" y="264.30" width="6.70" height="3.01" fill="#e3222a"/>
<rect x="480.80" y="267.01" width="6.70" height="3.01" fill="#e41820"/>
<rect x="480.80" y="269.73" width="6.70" height="3.01" fill="#e41820"/>
<rect x="480.80" y="272.44" width="6.70" height="3.01" fill="#e41820"/>
<rect x="480.80" y="275.15" width="6.70" height="3.01" fill="#e33138"/>
<rect x="480.80" y="277.86" width="6.70" height="3.01" fill="#e34d53"/>
<rect x="480.80" y="280.57" width="6.70" height="3.01" fill="#e31e26"/>
<rect x="480.80" y="283.29" width="6.70" height="3.01" fill="#e35056"/>
<rect x="480.80" y="286.00" width="6.70" height="3.01" fill="#e41820"/>
<rect x="480.80" y="288.71" width="6.70" height="3.01" fill="#e41820"/>
<rect x="480.80" y="291.43" width="6.70" height="3.01" fill="#e34248"/>
<rect x="480.80" y="294.14" width="6.70" height="3.01" fill="#e41820"/>
<rect x="480.80" y="296.85" width="6.70" height="3.01" fill="#e41820"/>
<rect x="480.80" y="299.56" width="6.70" height="3.01" fill="#e35b61"/>
<rect x="480.80" y="302.28" width="6.70" height="3.01" fill="#e41820"/>
<rect x="480.80" y="304.99" width="6.70" height="3.01" fill="#e41820"/>
<rect x="480.80" y="307.70" width="6.70" height="3.01" fill="#e41820"/>
<rect x="480.80" y="310.41" width="6.70" height="3.01" fill="#e3585e"/>
<rect x="480.80" y="313.12" width="6.70" height="3.01" fill="#e41820"/>
<rect x="480.80" y="315.84" width="6.70" height="3.01" fill="#e41820"/>
<rect x="480.80" y="318.55" width="6.70" height="3.01" fill="#e41820"/>
<rect x="480.80" y="321.26" width="6.70" height="3.01" fill="#e41820"/>
<rect x="480.80" y="323.98" width="6.70" height="3.01" fill="#e41820"/>
<rect x="480.80" y="326.69" width="6.70" height="3.01" fill="#e3585e"/>
<rect x="480.80" y="329.40" width="6.70" height="3.01" fill="#e3444b"/>
<rect x="480.80" y="332.11" width="6.70" height="3.01" fill="#e34a50"/>
<rect x="480.80" y="334.82" width="6.70" height="3.01" fill="#e33138"/>
<rect x="480.80" y="337.54" width="6.70" height="3.01" fill="#e31b23"/>
<rect x="480.80" y="340.25" width="6.70" height="3.01" fill="#e41820"/>
<rect x="480.80" y="342.96" width="6.70" height="3.01" fill="#e41820"/>
<rect x="480.80" y="345.68" width="6.70" height="3.01" fill="#e41820"/>
<rect x="480.80" y="348.39" width="6.70" height="3.01" fill="#e3373e"/>
<rect x="480.80" y="351.10" width="6.70" height="3.01" fill="#e32930"/>
<rect x="480.80" y="353.81" width="6.70" height="3.01" fill="#e41820"/>
<rect x="480.80" y="356.52" width="6.70" height="3.01" fill="#e41820"/>
<rect x="480.80" y="359.24" width="6.70" height="3.01" fill="#e41820"/>
<rect x="480.80" y="361.95" width="6.70" height="3.01" fill="#e3252c"/>
<rect x="480.80" y="364.66" width="6.70" height="3.01" fill="#e41820"/>
<rect x="480.80" y="367.38" width="6.70" height="3.01" fill="#e33138"/>
<rect x="480.80" y="370.09" width="6.70" height="3.01" fill="#e41820"/>
<rect x="480.80" y="372.80" width="6.70" height="3.01" fill="#e41820"/>
<rect x="480.80" y="375.51" width="6.70" height="3.01" fill="#e31b23"/>
<rect x="480.80" y="378.23" width="6.70" height="3.01" fill="#e41820"/>
<rect x="480.80" y="380.94" width="6.70" height="3.01" fill="#e35157"/>
<rect x="480.80" y="383.65" width="6.70" height="3.01" fill="#e41820"/>
<rect x="480.80" y="386.36" width="6.70" height="3.01" fill="#e41820"/>
<rect x="480.80" y="389.07" width="6.70" height="3.01" fill="#e36a70"/>
<rect x="480.80" y="391.79" width="6.70" height="3.01" fill="#e41820"/>
</g>
<line x1="355.30" y1="264.30" x2="355.30" y2="394.50" stroke="#1c2433" stroke-width="1.6"/>
<line x1="381.60" y1="264.30" x2="381.60" y2="394.50" stroke="#1c2433" stroke-width="1.6"/>
<line x1="408.60" y1="264.30" x2="408.60" y2="394.50" stroke="#1c2433" stroke-width="1.6"/>
<line x1="434.90" y1="264.30" x2="434.90" y2="394.50" stroke="#1c2433" stroke-width="1.6"/>
<line x1="461.60" y1="264.30" x2="461.60" y2="394.50" stroke="#1c2433" stroke-width="1.6"/>
<text x="342.3" y="259.3" font-size="11.5" fill="#231f20" transform="rotate(-45 342.3 259.3)">WT</text>
<text x="368.8" y="259.3" font-size="11.5" fill="#231f20" transform="rotate(-45 368.8 259.3)">ITD</text>
<text x="392.7" y="259.8" font-size="11.5" fill="#231f20" transform="rotate(-45 392.7 259.8)">Runx1</text>
<text x="422.4" y="260.3" font-size="11.5" fill="#231f20" transform="rotate(-45 422.4 260.3)">NHD13</text>
<text x="447.8" y="259.6" font-size="11.3" fill="#231f20" transform="rotate(-45 447.8 259.6)">ITD/Runx1</text>
<text x="473.4" y="259.6" font-size="12.1" fill="#231f20" transform="rotate(-45 473.4 259.6)">ITD/NHD13</text>
<defs><filter id="hb" x="-2%" y="-2%" width="104%" height="104%"><feGaussianBlur stdDeviation="0.7"/></filter><filter id="bb" x="-2%" y="0" width="104%" height="100%"><feGaussianBlur stdDeviation="0.45 0"/></filter><linearGradient id="zc" x1="0" x2="1" y1="0" y2="0"><stop offset="0" stop-color="#3b64a6"/><stop offset="0.5" stop-color="#dcdcdf"/><stop offset="1" stop-color="#c9272b"/></linearGradient><linearGradient id="gc" x1="0" x2="1" y1="0" y2="0"><stop offset="0" stop-color="#e2343f"/><stop offset="0.3" stop-color="#e5505e"/><stop offset="0.35" stop-color="#ea7488"/><stop offset="0.39" stop-color="#f2b0c4"/><stop offset="0.48" stop-color="#efc6da"/><stop offset="0.52" stop-color="#dbd5ee"/><stop offset="0.71" stop-color="#cbc8ec"/><stop offset="0.745" stop-color="#7272c4"/><stop offset="0.93" stop-color="#5452b0"/><stop offset="1" stop-color="#403e9c"/></linearGradient></defs>
<rect x="351.70" y="402.30" width="113.80" height="9.90" fill="url(#zc)"/>
<text x="335.4" y="411.7" font-size="11.7" textLength="12.9" lengthAdjust="spacingAndGlyphs" fill="#231f20">–2</text>
<text x="470.2" y="411.7" font-size="11.7" textLength="5.8" lengthAdjust="spacingAndGlyphs" fill="#231f20">2</text>
<text x="388.3" y="427.0" font-size="11.7" textLength="38.7" lengthAdjust="spacingAndGlyphs" fill="#231f20">Z-score</text>
<text x="0.9" y="468.8" font-size="17.8" font-weight="bold" stroke="#000" stroke-width="0.45" textLength="12.7" lengthAdjust="spacingAndGlyphs" fill="#000">D</text>
<text x="132.0" y="470.0" font-size="12.2" textLength="233.8" lengthAdjust="spacingAndGlyphs" fill="#231f20">Type 1 Interferon target gene set - P14</text>
<rect x="28.50" y="479.50" width="133.80" height="89.10" fill="#ffffff"/>
<line x1="61.95" y1="479.50" x2="61.95" y2="543.50" stroke="#f1f1f1" stroke-width="0.8"/>
<line x1="95.40" y1="479.50" x2="95.40" y2="543.50" stroke="#f1f1f1" stroke-width="0.8"/>
<line x1="128.85" y1="479.50" x2="128.85" y2="543.50" stroke="#f1f1f1" stroke-width="0.8"/>
<line x1="28.50" y1="490.17" x2="162.30" y2="490.17" stroke="#f6f6f6" stroke-width="0.8"/>
<line x1="28.50" y1="500.83" x2="162.30" y2="500.83" stroke="#f6f6f6" stroke-width="0.8"/>
<line x1="28.50" y1="511.50" x2="162.30" y2="511.50" stroke="#f6f6f6" stroke-width="0.8"/>
<line x1="28.50" y1="522.17" x2="162.30" y2="522.17" stroke="#f6f6f6" stroke-width="0.8"/>
<line x1="28.50" y1="532.83" x2="162.30" y2="532.83" stroke="#f6f6f6" stroke-width="0.8"/>
<line x1="28.50" y1="484.90" x2="162.30" y2="484.90" stroke="#c8c8c8" stroke-width="0.9"/>
<g filter="url(#bb)">
<rect x="29.25" y="543.50" width="1.80" height="20.10" fill="#969696"/>
<rect x="33.25" y="543.50" width="2.00" height="20.10" fill="#373737"/>
<rect x="42.55" y="543.50" width="3.20" height="20.10" fill="#969696"/>
<rect x="50.75" y="543.50" width="3.00" height="20.10" fill="#969696"/>
<rect x="54.35" y="543.50" width="1.50" height="20.10" fill="#969696"/>
<rect x="56.35" y="543.50" width="1.50" height="20.10" fill="#969696"/>
<rect x="60.25" y="543.50" width="1.80" height="20.10" fill="#373737"/>
<rect x="64.25" y="543.50" width="1.60" height="20.10" fill="#c3c3c3"/>
<rect x="74.25" y="543.50" width="1.80" height="20.10" fill="#373737"/>
<rect x="82.75" y="543.50" width="2.00" height="20.10" fill="#969696"/>
<rect x="86.25" y="543.50" width="1.60" height="20.10" fill="#646464"/>
<rect x="89.25" y="543.50" width="1.70" height="20.10" fill="#373737"/>
<rect x="92.25" y="543.50" width="1.70" height="20.10" fill="#373737"/>
<rect x="97.45" y="543.50" width="3.20" height="20.10" fill="#646464"/>
<rect x="101.45" y="543.50" width="1.80" height="20.10" fill="#969696"/>
<rect x="105.55" y="543.50" width="1.90" height="20.10" fill="#646464"/>
<rect x="107.95" y="543.50" width="2.10" height="20.10" fill="#969696"/>
<rect x="115.15" y="543.50" width="1.70" height="20.10" fill="#373737"/>
<rect x="119.65" y="543.50" width="2.60" height="20.10" fill="#c3c3c3"/>
<rect x="122.35" y="543.50" width="1.90" height="20.10" fill="#373737"/>
<rect x="125.75" y="543.50" width="1.80" height="20.10" fill="#969696"/>
<rect x="127.95" y="543.50" width="1.70" height="20.10" fill="#646464"/>
<rect x="130.05" y="543.50" width="1.70" height="20.10" fill="#969696"/>
<rect x="132.15" y="543.50" width="2.10" height="20.10" fill="#646464"/>
<rect x="135.15" y="543.50" width="2.10" height="20.10" fill="#373737"/>
<rect x="137.55" y="543.50" width="2.10" height="20.10" fill="#646464"/>
<rect x="143.25" y="543.50" width="2.00" height="20.10" fill="#646464"/>
<rect x="145.55" y="543.50" width="1.70" height="20.10" fill="#969696"/>
<rect x="147.55" y="543.50" width="2.20" height="20.10" fill="#373737"/>
<rect x="149.95" y="543.50" width="1.80" height="20.10" fill="#646464"/>
<rect x="152.05" y="543.50" width="2.40" height="20.10" fill="#373737"/>
<rect x="155.35" y="543.50" width="2.90" height="20.10" fill="#141414"/>
<rect x="158.25" y="543.50" width="4.30" height="20.10" fill="#141414"/>
</g>
<rect x="28.50" y="563.60" width="133.80" height="5.00" fill="url(#gc)"/>
<line x1="28.50" y1="568.10" x2="162.30" y2="568.10" stroke="#33334d" stroke-width="1.0"/>
<path d="M28.5,485.3 L33.2,485.3 L35.8,482.7 L39.7,483.7 L46.2,487.9 L54.0,492.3 L61.7,495.7 L69.5,501.4 L79.9,507.9 L92.9,515.6 L105.9,522.1 L118.9,528.6 L129.2,533.8 L137.0,537.7 L142.2,539.0 L147.4,537.7 L152.6,533.8 L157.8,524.7 L160.4,511.7 L161.7,498.8 L162.3,489.0" fill="none" stroke="#72b843" stroke-width="1.3" stroke-linejoin="round"/>
<rect x="28.5" y="479.5" width="133.8" height="89.1" fill="none" stroke="#6d6e71" stroke-width="1.3"/>
<text x="33.0" y="521.8" font-size="11.2" textLength="47.0" lengthAdjust="spacingAndGlyphs" fill="#231f20">NES –2.6</text>
<text x="33.0" y="536.1" font-size="11.2" textLength="41.2" lengthAdjust="spacingAndGlyphs" fill="#231f20">FDR 0.0</text>
<rect x="187.70" y="480.10" width="133.80" height="88.90" fill="#ffffff"/>
<line x1="221.15" y1="480.10" x2="221.15" y2="543.90" stroke="#f1f1f1" stroke-width="0.8"/>
<line x1="254.60" y1="480.10" x2="254.60" y2="543.90" stroke="#f1f1f1" stroke-width="0.8"/>
<line x1="288.05" y1="480.10" x2="288.05" y2="543.90" stroke="#f1f1f1" stroke-width="0.8"/>
<line x1="187.70" y1="490.73" x2="321.50" y2="490.73" stroke="#f6f6f6" stroke-width="0.8"/>
<line x1="187.70" y1="501.37" x2="321.50" y2="501.37" stroke="#f6f6f6" stroke-width="0.8"/>
<line x1="187.70" y1="512.00" x2="321.50" y2="512.00" stroke="#f6f6f6" stroke-width="0.8"/>
<line x1="187.70" y1="522.63" x2="321.50" y2="522.63" stroke="#f6f6f6" stroke-width="0.8"/>
<line x1="187.70" y1="533.27" x2="321.50" y2="533.27" stroke="#f6f6f6" stroke-width="0.8"/>
<line x1="187.70" y1="482.70" x2="321.50" y2="482.70" stroke="#c8c8c8" stroke-width="0.9"/>
<g filter="url(#bb)">
<rect x="189.15" y="543.90" width="1.80" height="20.30" fill="#969696"/>
<rect x="191.35" y="543.90" width="1.30" height="20.30" fill="#c3c3c3"/>
<rect x="201.25" y="543.90" width="3.20" height="20.30" fill="#969696"/>
<rect x="211.95" y="543.90" width="2.60" height="20.30" fill="#969696"/>
<rect x="215.55" y="543.90" width="1.50" height="20.30" fill="#c3c3c3"/>
<rect x="220.05" y="543.90" width="1.90" height="20.30" fill="#969696"/>
<rect x="224.95" y="543.90" width="1.50" height="20.30" fill="#c3c3c3"/>
<rect x="228.75" y="543.90" width="3.30" height="20.30" fill="#969696"/>
<rect x="233.05" y="543.90" width="1.50" height="20.30" fill="#c3c3c3"/>
<rect x="238.45" y="543.90" width="1.60" height="20.30" fill="#969696"/>
<rect x="244.95" y="543.90" width="1.90" height="20.30" fill="#646464"/>
<rect x="250.35" y="543.90" width="1.90" height="20.30" fill="#969696"/>
<rect x="254.75" y="543.90" width="1.50" height="20.30" fill="#969696"/>
<rect x="260.45" y="543.90" width="1.80" height="20.30" fill="#969696"/>
<rect x="265.75" y="543.90" width="2.00" height="20.30" fill="#969696"/>
<rect x="269.05" y="543.90" width="1.50" height="20.30" fill="#969696"/>
<rect x="277.95" y="543.90" width="1.90" height="20.30" fill="#c3c3c3"/>
<rect x="284.75" y="543.90" width="1.80" height="20.30" fill="#969696"/>
<rect x="287.35" y="543.90" width="2.60" height="20.30" fill="#373737"/>
<rect x="290.05" y="543.90" width="2.20" height="20.30" fill="#646464"/>
<rect x="292.35" y="543.90" width="2.30" height="20.30" fill="#969696"/>
<rect x="296.75" y="543.90" width="2.50" height="20.30" fill="#646464"/>
<rect x="300.15" y="543.90" width="2.60" height="20.30" fill="#969696"/>
<rect x="304.25" y="543.90" width="1.80" height="20.30" fill="#969696"/>
<rect x="307.55" y="543.90" width="3.20" height="20.30" fill="#141414"/>
<rect x="311.25" y="543.90" width="1.40" height="20.30" fill="#969696"/>
<rect x="312.95" y="543.90" width="8.80" height="20.30" fill="#141414"/>
</g>
<rect x="187.70" y="564.20" width="133.80" height="4.80" fill="url(#gc)"/>
<line x1="187.70" y1="568.50" x2="321.50" y2="568.50" stroke="#33334d" stroke-width="1.0"/>
<path d="M187.7,482.2 L192.2,481.9 L200.0,485.8 L213.0,492.3 L226.0,498.8 L238.9,505.3 L251.9,511.7 L264.9,519.0 L277.9,526.0 L290.8,532.5 L301.2,538.2 L307.7,539.8 L312.9,538.2 L315.5,532.5 L318.1,516.9 L320.0,498.8 L321.5,483.2" fill="none" stroke="#72b843" stroke-width="1.3" stroke-linejoin="round"/>
<rect x="187.7" y="480.1" width="133.8" height="88.9" fill="none" stroke="#6d6e71" stroke-width="1.3"/>
<text x="193.1" y="522.4" font-size="11.2" textLength="46.6" lengthAdjust="spacingAndGlyphs" fill="#231f20">NES –3.0</text>
<text x="193.1" y="536.1" font-size="11.2" textLength="41.1" lengthAdjust="spacingAndGlyphs" fill="#231f20">FDR 0.0</text>
<rect x="357.30" y="482.20" width="133.50" height="90.70" fill="#ffffff"/>
<line x1="390.68" y1="482.20" x2="390.68" y2="547.30" stroke="#f1f1f1" stroke-width="0.8"/>
<line x1="424.05" y1="482.20" x2="424.05" y2="547.30" stroke="#f1f1f1" stroke-width="0.8"/>
<line x1="457.43" y1="482.20" x2="457.43" y2="547.30" stroke="#f1f1f1" stroke-width="0.8"/>
<line x1="357.30" y1="493.05" x2="490.80" y2="493.05" stroke="#f6f6f6" stroke-width="0.8"/>
<line x1="357.30" y1="503.90" x2="490.80" y2="503.90" stroke="#f6f6f6" stroke-width="0.8"/>
<line x1="357.30" y1="514.75" x2="490.80" y2="514.75" stroke="#f6f6f6" stroke-width="0.8"/>
<line x1="357.30" y1="525.60" x2="490.80" y2="525.60" stroke="#f6f6f6" stroke-width="0.8"/>
<line x1="357.30" y1="536.45" x2="490.80" y2="536.45" stroke="#f6f6f6" stroke-width="0.8"/>
<line x1="357.30" y1="486.10" x2="490.80" y2="486.10" stroke="#c8c8c8" stroke-width="0.9"/>
<g filter="url(#bb)">
<rect x="357.45" y="547.30" width="1.80" height="20.80" fill="#969696"/>
<rect x="366.15" y="547.30" width="1.90" height="20.80" fill="#969696"/>
<rect x="372.95" y="547.30" width="1.80" height="20.80" fill="#969696"/>
<rect x="375.15" y="547.30" width="1.50" height="20.80" fill="#969696"/>
<rect x="378.35" y="547.30" width="1.90" height="20.80" fill="#969696"/>
<rect x="381.15" y="547.30" width="1.50" height="20.80" fill="#969696"/>
<rect x="383.15" y="547.30" width="1.50" height="20.80" fill="#969696"/>
<rect x="385.85" y="547.30" width="1.50" height="20.80" fill="#969696"/>
<rect x="389.05" y="547.30" width="1.90" height="20.80" fill="#646464"/>
<rect x="392.45" y="547.30" width="1.80" height="20.80" fill="#969696"/>
<rect x="400.05" y="547.30" width="1.60" height="20.80" fill="#646464"/>
<rect x="405.25" y="547.30" width="2.50" height="20.80" fill="#969696"/>
<rect x="410.15" y="547.30" width="1.50" height="20.80" fill="#c3c3c3"/>
<rect x="414.85" y="547.30" width="1.50" height="20.80" fill="#c3c3c3"/>
<rect x="418.85" y="547.30" width="1.60" height="20.80" fill="#373737"/>
<rect x="436.85" y="547.30" width="3.90" height="20.80" fill="#c3c3c3"/>
<rect x="445.65" y="547.30" width="1.80" height="20.80" fill="#373737"/>
<rect x="449.65" y="547.30" width="1.90" height="20.80" fill="#646464"/>
<rect x="461.75" y="547.30" width="1.90" height="20.80" fill="#969696"/>
<rect x="465.75" y="547.30" width="1.90" height="20.80" fill="#969696"/>
<rect x="469.15" y="547.30" width="1.90" height="20.80" fill="#969696"/>
<rect x="472.55" y="547.30" width="1.80" height="20.80" fill="#646464"/>
<rect x="475.95" y="547.30" width="1.80" height="20.80" fill="#969696"/>
<rect x="479.25" y="547.30" width="2.00" height="20.80" fill="#646464"/>
<rect x="480.75" y="547.30" width="10.30" height="20.80" fill="#141414"/>
</g>
<rect x="357.30" y="568.10" width="133.50" height="4.80" fill="url(#gc)"/>
<line x1="357.30" y1="572.40" x2="490.80" y2="572.40" stroke="#33334d" stroke-width="1.0"/>
<path d="M357.3,484.9 L361.2,486.7 L369.0,490.9 L382.0,497.1 L395.0,503.8 L407.9,510.9 L420.9,517.9 L433.9,524.6 L446.9,530.8 L459.8,536.8 L470.2,541.2 L478.0,543.3 L481.9,542.8 L484.5,539.4 L487.1,527.7 L488.9,507.0 L490.5,487.5" fill="none" stroke="#72b843" stroke-width="1.3" stroke-linejoin="round"/>
<rect x="357.3" y="482.2" width="133.5" height="90.7" fill="none" stroke="#6d6e71" stroke-width="1.3"/>
<text x="362.2" y="525.8" font-size="11.2" textLength="46.6" lengthAdjust="spacingAndGlyphs" fill="#231f20">NES –3.3</text>
<text x="362.2" y="539.9" font-size="11.2" textLength="41.3" lengthAdjust="spacingAndGlyphs" fill="#231f20">FDR 0.0</text>
<rect x="26.20" y="624.70" width="133.50" height="89.70" fill="#ffffff"/>
<line x1="59.58" y1="624.70" x2="59.58" y2="689.00" stroke="#f1f1f1" stroke-width="0.8"/>
<line x1="92.95" y1="624.70" x2="92.95" y2="689.00" stroke="#f1f1f1" stroke-width="0.8"/>
<line x1="126.33" y1="624.70" x2="126.33" y2="689.00" stroke="#f1f1f1" stroke-width="0.8"/>
<line x1="26.20" y1="635.42" x2="159.70" y2="635.42" stroke="#f6f6f6" stroke-width="0.8"/>
<line x1="26.20" y1="646.13" x2="159.70" y2="646.13" stroke="#f6f6f6" stroke-width="0.8"/>
<line x1="26.20" y1="656.85" x2="159.70" y2="656.85" stroke="#f6f6f6" stroke-width="0.8"/>
<line x1="26.20" y1="667.57" x2="159.70" y2="667.57" stroke="#f6f6f6" stroke-width="0.8"/>
<line x1="26.20" y1="678.28" x2="159.70" y2="678.28" stroke="#f6f6f6" stroke-width="0.8"/>
<line x1="26.20" y1="629.10" x2="159.70" y2="629.10" stroke="#c8c8c8" stroke-width="0.9"/>
<g filter="url(#bb)">
<rect x="25.95" y="689.00" width="1.70" height="20.40" fill="#969696"/>
<rect x="28.45" y="689.00" width="1.80" height="20.40" fill="#646464"/>
<rect x="35.85" y="689.00" width="1.90" height="20.40" fill="#646464"/>
<rect x="40.55" y="689.00" width="2.50" height="20.40" fill="#373737"/>
<rect x="45.95" y="689.00" width="2.50" height="20.40" fill="#646464"/>
<rect x="59.45" y="689.00" width="1.80" height="20.40" fill="#969696"/>
<rect x="63.45" y="689.00" width="1.80" height="20.40" fill="#969696"/>
<rect x="67.45" y="689.00" width="1.90" height="20.40" fill="#969696"/>
<rect x="71.75" y="689.00" width="1.50" height="20.40" fill="#c3c3c3"/>
<rect x="76.25" y="689.00" width="1.80" height="20.40" fill="#373737"/>
<rect x="81.65" y="689.00" width="1.80" height="20.40" fill="#969696"/>
<rect x="85.15" y="689.00" width="1.50" height="20.40" fill="#969696"/>
<rect x="90.35" y="689.00" width="1.90" height="20.40" fill="#969696"/>
<rect x="92.55" y="689.00" width="1.50" height="20.40" fill="#969696"/>
<rect x="103.15" y="689.00" width="1.90" height="20.40" fill="#646464"/>
<rect x="106.55" y="689.00" width="1.90" height="20.40" fill="#969696"/>
<rect x="111.25" y="689.00" width="1.90" height="20.40" fill="#969696"/>
<rect x="118.65" y="689.00" width="2.50" height="20.40" fill="#373737"/>
<rect x="123.35" y="689.00" width="2.50" height="20.40" fill="#646464"/>
<rect x="126.95" y="689.00" width="1.50" height="20.40" fill="#c3c3c3"/>
<rect x="132.75" y="689.00" width="2.00" height="20.40" fill="#646464"/>
<rect x="134.75" y="689.00" width="1.70" height="20.40" fill="#969696"/>
<rect x="136.55" y="689.00" width="1.70" height="20.40" fill="#373737"/>
<rect x="138.15" y="689.00" width="1.20" height="20.40" fill="#969696"/>
<rect x="140.85" y="689.00" width="2.00" height="20.40" fill="#646464"/>
<rect x="143.05" y="689.00" width="2.40" height="20.40" fill="#373737"/>
<rect x="146.25" y="689.00" width="2.50" height="20.40" fill="#141414"/>
<rect x="149.65" y="689.00" width="1.80" height="20.40" fill="#969696"/>
<rect x="151.65" y="689.00" width="8.30" height="20.40" fill="#141414"/>
</g>
<rect x="26.20" y="709.40" width="133.50" height="5.00" fill="url(#gc)"/>
<line x1="26.20" y1="713.90" x2="159.70" y2="713.90" stroke="#33334d" stroke-width="1.0"/>
<path d="M26.3,628.7 L28.9,628.2 L30.7,627.2 L34.1,628.7 L40.6,632.9 L51.0,638.6 L63.9,645.8 L76.9,652.9 L89.9,659.3 L102.9,665.8 L115.9,672.3 L128.8,678.8 L139.2,683.2 L147.0,684.8 L150.9,684.0 L153.5,680.1 L156.1,667.1 L157.9,646.4 L159.5,628.2" fill="none" stroke="#72b843" stroke-width="1.3" stroke-linejoin="round"/>
<rect x="26.2" y="624.7" width="133.5" height="89.7" fill="none" stroke="#6d6e71" stroke-width="1.3"/>
<text x="31.6" y="667.3" font-size="11.2" textLength="46.8" lengthAdjust="spacingAndGlyphs" fill="#231f20">NES –2.8</text>
<text x="31.6" y="681.8" font-size="11.2" textLength="41.2" lengthAdjust="spacingAndGlyphs" fill="#231f20">FDR 0.0</text>
<rect x="189.70" y="624.90" width="133.70" height="89.40" fill="#ffffff"/>
<line x1="223.12" y1="624.90" x2="223.12" y2="688.80" stroke="#f1f1f1" stroke-width="0.8"/>
<line x1="256.55" y1="624.90" x2="256.55" y2="688.80" stroke="#f1f1f1" stroke-width="0.8"/>
<line x1="289.97" y1="624.90" x2="289.97" y2="688.80" stroke="#f1f1f1" stroke-width="0.8"/>
<line x1="189.70" y1="635.55" x2="323.40" y2="635.55" stroke="#f6f6f6" stroke-width="0.8"/>
<line x1="189.70" y1="646.20" x2="323.40" y2="646.20" stroke="#f6f6f6" stroke-width="0.8"/>
<line x1="189.70" y1="656.85" x2="323.40" y2="656.85" stroke="#f6f6f6" stroke-width="0.8"/>
<line x1="189.70" y1="667.50" x2="323.40" y2="667.50" stroke="#f6f6f6" stroke-width="0.8"/>
<line x1="189.70" y1="678.15" x2="323.40" y2="678.15" stroke="#f6f6f6" stroke-width="0.8"/>
<line x1="189.70" y1="632.90" x2="323.40" y2="632.90" stroke="#c8c8c8" stroke-width="0.9"/>
<g filter="url(#bb)">
<rect x="189.75" y="688.80" width="2.50" height="20.30" fill="#141414"/>
<rect x="192.45" y="688.80" width="2.50" height="20.30" fill="#373737"/>
<rect x="198.55" y="688.80" width="1.90" height="20.30" fill="#646464"/>
<rect x="200.35" y="688.80" width="1.40" height="20.30" fill="#969696"/>
<rect x="203.95" y="688.80" width="2.50" height="20.30" fill="#373737"/>
<rect x="212.65" y="688.80" width="1.80" height="20.30" fill="#969696"/>
<rect x="218.05" y="688.80" width="1.80" height="20.30" fill="#969696"/>
<rect x="222.75" y="688.80" width="1.80" height="20.30" fill="#969696"/>
<rect x="225.45" y="688.80" width="2.50" height="20.30" fill="#969696"/>
<rect x="229.45" y="688.80" width="1.90" height="20.30" fill="#969696"/>
<rect x="233.55" y="688.80" width="3.80" height="20.30" fill="#c3c3c3"/>
<rect x="241.55" y="688.80" width="1.90" height="20.30" fill="#373737"/>
<rect x="246.45" y="688.80" width="1.50" height="20.30" fill="#c3c3c3"/>
<rect x="252.35" y="688.80" width="1.90" height="20.30" fill="#969696"/>
<rect x="257.25" y="688.80" width="1.50" height="20.30" fill="#969696"/>
<rect x="262.45" y="688.80" width="1.80" height="20.30" fill="#373737"/>
<rect x="268.55" y="688.80" width="2.50" height="20.30" fill="#646464"/>
<rect x="273.95" y="688.80" width="1.80" height="20.30" fill="#373737"/>
<rect x="279.35" y="688.80" width="2.50" height="20.30" fill="#373737"/>
<rect x="284.75" y="688.80" width="2.50" height="20.30" fill="#646464"/>
<rect x="288.85" y="688.80" width="1.50" height="20.30" fill="#969696"/>
<rect x="292.05" y="688.80" width="3.20" height="20.30" fill="#969696"/>
<rect x="295.45" y="688.80" width="1.80" height="20.30" fill="#646464"/>
<rect x="297.55" y="688.80" width="1.70" height="20.30" fill="#969696"/>
<rect x="299.35" y="688.80" width="2.10" height="20.30" fill="#373737"/>
<rect x="301.55" y="688.80" width="1.70" height="20.30" fill="#646464"/>
<rect x="303.35" y="688.80" width="2.10" height="20.30" fill="#646464"/>
<rect x="305.55" y="688.80" width="2.20" height="20.30" fill="#373737"/>
<rect x="307.75" y="688.80" width="2.00" height="20.30" fill="#646464"/>
<rect x="309.75" y="688.80" width="3.00" height="20.30" fill="#373737"/>
<rect x="314.25" y="688.80" width="9.40" height="20.30" fill="#141414"/>
</g>
<rect x="189.70" y="709.10" width="133.70" height="5.20" fill="url(#gc)"/>
<line x1="189.70" y1="713.80" x2="323.40" y2="713.80" stroke="#33334d" stroke-width="1.0"/>
<path d="M189.5,633.4 L191.6,630.3 L195.5,627.7 L199.4,628.7 L204.6,630.3 L209.8,632.1 L215.0,635.5 L228.0,643.2 L240.9,650.3 L253.9,656.7 L266.9,664.0 L279.9,671.0 L292.8,678.8 L300.6,683.2 L305.8,684.8 L309.7,683.2 L313.6,683.7 L316.2,683.2 L318.8,674.9 L320.9,659.3 L322.7,638.6 L323.4,630.8" fill="none" stroke="#72b843" stroke-width="1.3" stroke-linejoin="round"/>
<rect x="189.7" y="624.9" width="133.7" height="89.4" fill="none" stroke="#6d6e71" stroke-width="1.3"/>
<text x="195.1" y="667.5" font-size="11.2" textLength="46.7" lengthAdjust="spacingAndGlyphs" fill="#231f20">NES –2.6</text>
<text x="195.1" y="681.4" font-size="11.2" textLength="40.6" lengthAdjust="spacingAndGlyphs" fill="#231f20">FDR 0.0</text>
<rect x="356.50" y="625.10" width="134.00" height="89.10" fill="#ffffff"/>
<line x1="390.00" y1="625.10" x2="390.00" y2="688.90" stroke="#f1f1f1" stroke-width="0.8"/>
<line x1="423.50" y1="625.10" x2="423.50" y2="688.90" stroke="#f1f1f1" stroke-width="0.8"/>
<line x1="457.00" y1="625.10" x2="457.00" y2="688.90" stroke="#f1f1f1" stroke-width="0.8"/>
<line x1="356.50" y1="635.73" x2="490.50" y2="635.73" stroke="#f6f6f6" stroke-width="0.8"/>
<line x1="356.50" y1="646.37" x2="490.50" y2="646.37" stroke="#f6f6f6" stroke-width="0.8"/>
<line x1="356.50" y1="657.00" x2="490.50" y2="657.00" stroke="#f6f6f6" stroke-width="0.8"/>
<line x1="356.50" y1="667.63" x2="490.50" y2="667.63" stroke="#f6f6f6" stroke-width="0.8"/>
<line x1="356.50" y1="678.27" x2="490.50" y2="678.27" stroke="#f6f6f6" stroke-width="0.8"/>
<line x1="356.50" y1="685.80" x2="490.50" y2="685.80" stroke="#c8c8c8" stroke-width="0.9"/>
<g filter="url(#bb)">
<rect x="356.75" y="688.90" width="5.00" height="20.30" fill="#141414"/>
<rect x="361.25" y="688.90" width="2.00" height="20.30" fill="#373737"/>
<rect x="362.75" y="688.90" width="3.30" height="20.30" fill="#141414"/>
<rect x="366.15" y="688.90" width="2.60" height="20.30" fill="#646464"/>
<rect x="368.25" y="688.90" width="3.00" height="20.30" fill="#373737"/>
<rect x="371.25" y="688.90" width="2.80" height="20.30" fill="#646464"/>
<rect x="374.25" y="688.90" width="2.50" height="20.30" fill="#969696"/>
<rect x="378.35" y="688.90" width="1.30" height="20.30" fill="#c3c3c3"/>
<rect x="380.95" y="688.90" width="2.30" height="20.30" fill="#646464"/>
<rect x="383.25" y="688.90" width="3.00" height="20.30" fill="#373737"/>
<rect x="388.35" y="688.90" width="2.60" height="20.30" fill="#373737"/>
<rect x="393.75" y="688.90" width="3.20" height="20.30" fill="#969696"/>
<rect x="399.15" y="688.90" width="3.20" height="20.30" fill="#969696"/>
<rect x="407.25" y="688.90" width="2.50" height="20.30" fill="#646464"/>
<rect x="411.45" y="688.90" width="1.50" height="20.30" fill="#969696"/>
<rect x="415.35" y="688.90" width="2.50" height="20.30" fill="#969696"/>
<rect x="419.35" y="688.90" width="2.50" height="20.30" fill="#969696"/>
<rect x="426.15" y="688.90" width="1.80" height="20.30" fill="#969696"/>
<rect x="430.85" y="688.90" width="1.80" height="20.30" fill="#969696"/>
<rect x="432.85" y="688.90" width="2.50" height="20.30" fill="#969696"/>
<rect x="436.85" y="688.90" width="2.60" height="20.30" fill="#969696"/>
<rect x="440.95" y="688.90" width="1.80" height="20.30" fill="#969696"/>
<rect x="446.35" y="688.90" width="3.10" height="20.30" fill="#646464"/>
<rect x="450.35" y="688.90" width="2.50" height="20.30" fill="#646464"/>
<rect x="455.75" y="688.90" width="2.50" height="20.30" fill="#969696"/>
<rect x="458.45" y="688.90" width="1.80" height="20.30" fill="#969696"/>
<rect x="470.75" y="688.90" width="1.50" height="20.30" fill="#c3c3c3"/>
<rect x="475.95" y="688.90" width="2.50" height="20.30" fill="#969696"/>
</g>
<rect x="356.50" y="709.20" width="134.00" height="5.00" fill="url(#gc)"/>
<line x1="356.50" y1="713.70" x2="490.50" y2="713.70" stroke="#33334d" stroke-width="1.0"/>
<path d="M356.5,686.3 L358.1,675.9 L359.9,662.9 L362.5,650.0 L366.4,640.9 L371.6,633.1 L376.8,628.7 L382.0,627.9 L387.2,628.2 L392.3,629.7 L402.7,635.7 L420.9,646.1 L433.9,653.9 L446.9,661.6 L459.8,668.7 L472.8,675.9 L480.6,679.8 L490.5,685.8" fill="none" stroke="#72b843" stroke-width="1.3" stroke-linejoin="round"/>
<rect x="356.5" y="625.1" width="134.0" height="89.1" fill="none" stroke="#6d6e71" stroke-width="1.3"/>
<text x="438.6" y="637.5" font-size="11.2" textLength="41.5" lengthAdjust="spacingAndGlyphs" fill="#231f20">NES 3.0</text>
<text x="438.6" y="651.8" font-size="11.2" textLength="40.7" lengthAdjust="spacingAndGlyphs" fill="#231f20">FDR 0.0</text>
<rect x="351.70" y="826.30" width="132.90" height="90.60" fill="#ffffff"/>
<line x1="384.93" y1="826.30" x2="384.93" y2="890.20" stroke="#f1f1f1" stroke-width="0.8"/>
<line x1="418.15" y1="826.30" x2="418.15" y2="890.20" stroke="#f1f1f1" stroke-width="0.8"/>
<line x1="451.38" y1="826.30" x2="451.38" y2="890.20" stroke="#f1f1f1" stroke-width="0.8"/>
<line x1="351.70" y1="836.95" x2="484.60" y2="836.95" stroke="#f6f6f6" stroke-width="0.8"/>
<line x1="351.70" y1="847.60" x2="484.60" y2="847.60" stroke="#f6f6f6" stroke-width="0.8"/>
<line x1="351.70" y1="858.25" x2="484.60" y2="858.25" stroke="#f6f6f6" stroke-width="0.8"/>
<line x1="351.70" y1="868.90" x2="484.60" y2="868.90" stroke="#f6f6f6" stroke-width="0.8"/>
<line x1="351.70" y1="879.55" x2="484.60" y2="879.55" stroke="#f6f6f6" stroke-width="0.8"/>
<line x1="351.70" y1="834.80" x2="484.60" y2="834.80" stroke="#c8c8c8" stroke-width="0.9"/>
<g filter="url(#bb)">
<rect x="354.45" y="890.20" width="1.80" height="21.20" fill="#969696"/>
<rect x="357.15" y="890.20" width="3.90" height="21.20" fill="#646464"/>
<rect x="361.85" y="890.20" width="1.90" height="21.20" fill="#969696"/>
<rect x="364.55" y="890.20" width="3.90" height="21.20" fill="#646464"/>
<rect x="369.45" y="890.20" width="1.50" height="21.20" fill="#c3c3c3"/>
<rect x="373.95" y="890.20" width="1.90" height="21.20" fill="#969696"/>
<rect x="378.15" y="890.20" width="1.50" height="21.20" fill="#c3c3c3"/>
<rect x="384.75" y="890.20" width="1.80" height="21.20" fill="#969696"/>
<rect x="388.15" y="890.20" width="2.50" height="21.20" fill="#969696"/>
<rect x="392.35" y="890.20" width="1.50" height="21.20" fill="#c3c3c3"/>
<rect x="396.35" y="890.20" width="1.50" height="21.20" fill="#969696"/>
<rect x="401.55" y="890.20" width="1.90" height="21.20" fill="#969696"/>
<rect x="406.25" y="890.20" width="3.20" height="21.20" fill="#646464"/>
<rect x="411.15" y="890.20" width="1.50" height="21.20" fill="#c3c3c3"/>
<rect x="415.25" y="890.20" width="1.50" height="21.20" fill="#969696"/>
<rect x="421.15" y="890.20" width="2.50" height="21.20" fill="#646464"/>
<rect x="423.85" y="890.20" width="1.80" height="21.20" fill="#969696"/>
<rect x="429.25" y="890.20" width="2.50" height="21.20" fill="#646464"/>
<rect x="433.25" y="890.20" width="1.80" height="21.20" fill="#969696"/>
<rect x="437.25" y="890.20" width="2.60" height="21.20" fill="#646464"/>
<rect x="440.65" y="890.20" width="1.80" height="21.20" fill="#969696"/>
<rect x="442.65" y="890.20" width="1.90" height="21.20" fill="#373737"/>
<rect x="448.05" y="890.20" width="2.50" height="21.20" fill="#646464"/>
<rect x="454.15" y="890.20" width="2.50" height="21.20" fill="#646464"/>
<rect x="457.45" y="890.20" width="1.90" height="21.20" fill="#969696"/>
<rect x="464.25" y="890.20" width="4.50" height="21.20" fill="#373737"/>
<rect x="468.95" y="890.20" width="2.50" height="21.20" fill="#969696"/>
<rect x="472.95" y="890.20" width="2.50" height="21.20" fill="#373737"/>
<rect x="475.65" y="890.20" width="6.60" height="21.20" fill="#141414"/>
<rect x="482.05" y="890.20" width="1.40" height="21.20" fill="#969696"/>
</g>
<rect x="351.70" y="911.40" width="132.90" height="5.50" fill="url(#gc)"/>
<line x1="351.70" y1="916.40" x2="484.60" y2="916.40" stroke="#33334d" stroke-width="1.0"/>
<path d="M351.7,834.1 L355.2,834.9 L357.8,833.3 L360.4,830.7 L364.3,829.2 L368.2,829.7 L373.4,831.5 L378.6,834.9 L388.9,841.1 L401.9,848.9 L414.9,856.7 L427.9,864.5 L440.9,872.2 L453.8,879.5 L464.2,886.0 L469.4,883.4 L474.6,880.8 L477.2,876.9 L479.8,861.3 L481.9,843.2 L483.7,836.7 L484.6,834.0" fill="none" stroke="#72b843" stroke-width="1.3" stroke-linejoin="round"/>
<rect x="351.7" y="826.3" width="132.9" height="90.6" fill="none" stroke="#6d6e71" stroke-width="1.3"/>
<text x="356.5" y="870.4" font-size="11.2" textLength="47.5" lengthAdjust="spacingAndGlyphs" fill="#231f20">NES –2.4</text>
<text x="356.5" y="884.2" font-size="11.2" textLength="41.0" lengthAdjust="spacingAndGlyphs" fill="#231f20">FDR 0.0</text>
<text x="24.3" y="582.2" font-size="12.2" textLength="49.9" lengthAdjust="spacingAndGlyphs" fill="#d62f45">Wild type</text>
<text x="136.6" y="585.4" font-size="12.2" textLength="19.0" lengthAdjust="spacingAndGlyphs" fill="#3b3b8c">Flt3</text>
<text x="156.2" y="580.2" font-size="7.6" textLength="12.0" lengthAdjust="spacingAndGlyphs" fill="#3b3b8c">ITD</text>
<text x="183.8" y="582.2" font-size="12.2" textLength="49.9" lengthAdjust="spacingAndGlyphs" fill="#d62f45">Wild type</text>
<text x="288.5" y="582.2" font-size="12.2" textLength="38.4" lengthAdjust="spacingAndGlyphs" fill="#3b3b8c">NHD13</text>
<text x="351.5" y="586.8" font-size="12.2" textLength="49.7" lengthAdjust="spacingAndGlyphs" fill="#d62f45">Wild type</text>
<text x="462.0" y="590.0" font-size="12.2" textLength="19.3" lengthAdjust="spacingAndGlyphs" fill="#3b3b8c">Flt3</text>
<text x="481.9" y="584.8" font-size="7.6" textLength="12.3" lengthAdjust="spacingAndGlyphs" fill="#3b3b8c">ITD</text>
<text x="494.5" y="590.0" font-size="12.2" textLength="4.7" lengthAdjust="spacingAndGlyphs" fill="#3b3b8c">/</text>
<text x="461.5" y="603.9" font-size="12.2" textLength="37.7" lengthAdjust="spacingAndGlyphs" fill="#3b3b8c">NHD13</text>
<text x="26.0" y="731.5" font-size="12.2" textLength="19.2" lengthAdjust="spacingAndGlyphs" fill="#d62f45">Flt3</text>
<text x="45.8" y="726.3" font-size="7.6" textLength="13.0" lengthAdjust="spacingAndGlyphs" fill="#d62f45">ITD</text>
<text x="130.5" y="734.6" font-size="12.2" textLength="19.3" lengthAdjust="spacingAndGlyphs" fill="#3b3b8c">Flt3</text>
<text x="150.4" y="729.4" font-size="7.6" textLength="12.8" lengthAdjust="spacingAndGlyphs" fill="#3b3b8c">ITD</text>
<text x="163.5" y="734.6" font-size="12.2" textLength="4.1" lengthAdjust="spacingAndGlyphs" fill="#3b3b8c">/</text>
<text x="129.7" y="748.8" font-size="12.2" textLength="38.0" lengthAdjust="spacingAndGlyphs" fill="#3b3b8c">NHD13</text>
<text x="187.8" y="728.3" font-size="12.2" textLength="37.2" lengthAdjust="spacingAndGlyphs" fill="#d62f45">NHD13</text>
<text x="299.7" y="731.5" font-size="12.2" textLength="19.3" lengthAdjust="spacingAndGlyphs" fill="#3b3b8c">Flt3</text>
<text x="319.6" y="726.3" font-size="7.6" textLength="11.6" lengthAdjust="spacingAndGlyphs" fill="#3b3b8c">ITD</text>
<text x="331.5" y="731.5" font-size="12.2" textLength="4.7" lengthAdjust="spacingAndGlyphs" fill="#3b3b8c">/</text>
<text x="299.2" y="746.2" font-size="12.2" textLength="37.7" lengthAdjust="spacingAndGlyphs" fill="#3b3b8c">NHD13</text>
<text x="357.8" y="731.6" font-size="12.2" textLength="19.3" lengthAdjust="spacingAndGlyphs" fill="#d62f45">Flt3</text>
<text x="377.7" y="726.4" font-size="7.6" textLength="13.0" lengthAdjust="spacingAndGlyphs" fill="#d62f45">ITD</text>
<text x="461.5" y="734.6" font-size="12.2" textLength="19.6" lengthAdjust="spacingAndGlyphs" fill="#3b3b8c">Flt3</text>
<text x="481.7" y="729.4" font-size="7.6" textLength="12.4" lengthAdjust="spacingAndGlyphs" fill="#3b3b8c">ITD</text>
<text x="494.4" y="734.6" font-size="12.2" textLength="5.0" lengthAdjust="spacingAndGlyphs" fill="#3b3b8c">/</text>
<text x="456.6" y="748.8" font-size="12.2" textLength="32.4" lengthAdjust="spacingAndGlyphs" fill="#3b3b8c">Runx1</text>
<text x="489.6" y="743.6" font-size="7.6" fill="#3b3b8c"></text>
<text x="489.5" y="743.8" font-size="7.6" textLength="13.9" lengthAdjust="spacingAndGlyphs" fill="#3b3b8c">DEL</text>
<text x="1.3" y="790.8" font-size="17.8" font-weight="bold" stroke="#000" stroke-width="0.45" textLength="9.4" lengthAdjust="spacingAndGlyphs" fill="#000">E</text>
<line x1="64.50" y1="809.90" x2="64.50" y2="937.60" stroke="#231f20" stroke-width="1.5"/>
<line x1="63.80" y1="936.90" x2="250.20" y2="936.90" stroke="#231f20" stroke-width="1.5"/>
<line x1="60.30" y1="936.80" x2="64.50" y2="936.80" stroke="#231f20" stroke-width="1.3"/>
<text x="49.8" y="941.0" font-size="11.9" textLength="7.3" lengthAdjust="spacingAndGlyphs" fill="#231f20">0</text>
<line x1="60.30" y1="912.26" x2="64.50" y2="912.26" stroke="#231f20" stroke-width="1.3"/>
<text x="49.8" y="916.5" font-size="11.9" textLength="7.3" lengthAdjust="spacingAndGlyphs" fill="#231f20">5</text>
<line x1="60.30" y1="887.72" x2="64.50" y2="887.72" stroke="#231f20" stroke-width="1.3"/>
<text x="42.4" y="891.9" font-size="11.9" textLength="14.7" lengthAdjust="spacingAndGlyphs" fill="#231f20">10</text>
<line x1="60.30" y1="863.18" x2="64.50" y2="863.18" stroke="#231f20" stroke-width="1.3"/>
<text x="42.4" y="867.4" font-size="11.9" textLength="14.7" lengthAdjust="spacingAndGlyphs" fill="#231f20">15</text>
<line x1="60.30" y1="838.64" x2="64.50" y2="838.64" stroke="#231f20" stroke-width="1.3"/>
<text x="42.4" y="842.8" font-size="11.9" textLength="14.7" lengthAdjust="spacingAndGlyphs" fill="#231f20">20</text>
<line x1="60.30" y1="814.10" x2="64.50" y2="814.10" stroke="#231f20" stroke-width="1.3"/>
<text x="42.4" y="818.3" font-size="11.9" textLength="14.7" lengthAdjust="spacingAndGlyphs" fill="#231f20">25</text>
<text x="32.8" y="908" font-size="12.3" fill="#231f20" textLength="70" lengthAdjust="spacingAndGlyphs" transform="rotate(-90 32.8 908)">IFNα (pg/mL)</text>
<line x1="88.10" y1="936.90" x2="88.10" y2="941.40" stroke="#231f20" stroke-width="1.3"/>
<line x1="122.70" y1="936.90" x2="122.70" y2="941.40" stroke="#231f20" stroke-width="1.3"/>
<line x1="157.30" y1="936.90" x2="157.30" y2="941.40" stroke="#231f20" stroke-width="1.3"/>
<line x1="191.90" y1="936.90" x2="191.90" y2="941.40" stroke="#231f20" stroke-width="1.3"/>
<line x1="226.70" y1="936.90" x2="226.70" y2="941.40" stroke="#231f20" stroke-width="1.3"/>
<line x1="88.10" y1="920.40" x2="88.10" y2="932.80" stroke="#1b7a5a" stroke-width="1.5"/>
<line x1="82.30" y1="920.40" x2="93.90" y2="920.40" stroke="#1b7a5a" stroke-width="1.5"/>
<line x1="82.30" y1="932.80" x2="93.90" y2="932.80" stroke="#1b7a5a" stroke-width="1.5"/>
<circle cx="88.0" cy="917.4" r="2.4" fill="#1b7a5a"/>
<circle cx="82.8" cy="926.5" r="2.4" fill="#1b7a5a"/>
<circle cx="82.8" cy="932.3" r="2.4" fill="#1b7a5a"/>
<circle cx="92.8" cy="931.2" r="2.4" fill="#1b7a5a"/>
<line x1="76.60" y1="927.20" x2="99.60" y2="927.20" stroke="#111" stroke-width="1.6"/>
<line x1="122.70" y1="927.40" x2="122.70" y2="929.80" stroke="#f4b41a" stroke-width="1.5"/>
<line x1="118.70" y1="927.40" x2="126.70" y2="927.40" stroke="#f4b41a" stroke-width="1.5"/>
<line x1="118.70" y1="929.80" x2="126.70" y2="929.80" stroke="#f4b41a" stroke-width="1.5"/>
<circle cx="113.6" cy="931.3" r="2.4" fill="#f4b41a"/>
<circle cx="119.8" cy="927.6" r="2.4" fill="#f4b41a"/>
<circle cx="125.5" cy="928.4" r="2.4" fill="#f4b41a"/>
<circle cx="131.2" cy="927.2" r="2.4" fill="#f4b41a"/>
<circle cx="122.0" cy="929.5" r="2.4" fill="#f4b41a"/>
<line x1="111.50" y1="928.60" x2="133.90" y2="928.60" stroke="#111" stroke-width="1.6"/>
<line x1="157.30" y1="900.00" x2="157.30" y2="924.10" stroke="#3aaa35" stroke-width="1.5"/>
<line x1="151.30" y1="900.00" x2="163.30" y2="900.00" stroke="#3aaa35" stroke-width="1.5"/>
<line x1="151.30" y1="924.10" x2="163.30" y2="924.10" stroke="#3aaa35" stroke-width="1.5"/>
<circle cx="157.3" cy="899.3" r="2.4" fill="#3aaa35"/>
<circle cx="157.3" cy="913.1" r="2.4" fill="#3aaa35"/>
<circle cx="157.3" cy="923.7" r="2.4" fill="#3aaa35"/>
<line x1="145.70" y1="912.00" x2="168.90" y2="912.00" stroke="#111" stroke-width="1.6"/>
<line x1="191.90" y1="833.30" x2="191.90" y2="905.00" stroke="#1c4e8a" stroke-width="1.5"/>
<line x1="185.80" y1="833.30" x2="198.00" y2="833.30" stroke="#1c4e8a" stroke-width="1.5"/>
<line x1="185.80" y1="905.00" x2="198.00" y2="905.00" stroke="#1c4e8a" stroke-width="1.5"/>
<circle cx="191.9" cy="822.1" r="2.4" fill="#1c4e8a"/>
<circle cx="191.9" cy="861.7" r="2.4" fill="#1c4e8a"/>
<circle cx="191.9" cy="891.9" r="2.4" fill="#1c4e8a"/>
<circle cx="191.9" cy="901.0" r="2.4" fill="#1c4e8a"/>
<line x1="180.20" y1="869.10" x2="203.60" y2="869.10" stroke="#111" stroke-width="1.6"/>
<line x1="226.70" y1="925.50" x2="226.70" y2="931.50" stroke="#c8102e" stroke-width="1.5"/>
<line x1="221.70" y1="925.50" x2="231.70" y2="925.50" stroke="#c8102e" stroke-width="1.5"/>
<line x1="221.70" y1="931.50" x2="231.70" y2="931.50" stroke="#c8102e" stroke-width="1.5"/>
<circle cx="231.7" cy="924.0" r="2.4" fill="#c8102e"/>
<circle cx="221.9" cy="926.5" r="2.4" fill="#c8102e"/>
<circle cx="221.9" cy="931.7" r="2.4" fill="#c8102e"/>
<circle cx="231.7" cy="931.7" r="2.4" fill="#c8102e"/>
<line x1="215.60" y1="928.60" x2="237.80" y2="928.60" stroke="#111" stroke-width="1.6"/>
<text x="94.1" y="951.5" font-size="12.3" text-anchor="end" fill="#231f20" transform="rotate(-45 94.1 951.5)">WT</text>
<text x="128.7" y="951.5" font-size="12.3" text-anchor="end" fill="#231f20" transform="rotate(-45 128.7 951.5)">ITD</text>
<text x="163.3" y="951.5" font-size="12.3" text-anchor="end" fill="#231f20" transform="rotate(-45 163.3 951.5)">NHD13</text>
<text x="197.9" y="951.5" font-size="12.3" text-anchor="end" fill="#231f20" transform="rotate(-45 197.9 951.5)">ITD/NHD13</text>
<text x="232.7" y="951.5" font-size="12.3" text-anchor="end" fill="#231f20" transform="rotate(-45 232.7 951.5)">ITD/Runx</text>
<line x1="85.40" y1="800.60" x2="190.00" y2="800.60" stroke="#231f20" stroke-width="1.4"/>
<line x1="151.20" y1="788.00" x2="190.00" y2="788.00" stroke="#231f20" stroke-width="1.4"/>
<line x1="120.00" y1="812.60" x2="190.00" y2="812.60" stroke="#231f20" stroke-width="1.4"/>
<line x1="192.00" y1="805.80" x2="230.00" y2="805.80" stroke="#231f20" stroke-width="1.4"/>
<polygon points="171.20,777.85 172.03,780.06 174.39,780.16 172.54,781.63 173.17,783.91 171.20,782.61 169.23,783.91 169.86,781.63 168.01,780.16 170.37,780.06" fill="#231f20"/>
<polygon points="134.40,790.35 135.23,792.56 137.59,792.66 135.74,794.13 136.37,796.41 134.40,795.11 132.43,796.41 133.06,794.13 131.21,792.66 133.57,792.56" fill="#231f20"/>
<polygon points="141.50,790.35 142.33,792.56 144.69,792.66 142.84,794.13 143.47,796.41 141.50,795.11 139.53,796.41 140.16,794.13 138.31,792.66 140.67,792.56" fill="#231f20"/>
<polygon points="151.80,802.65 152.63,804.86 154.99,804.96 153.14,806.43 153.77,808.71 151.80,807.41 149.83,808.71 150.46,806.43 148.61,804.96 150.97,804.86" fill="#231f20"/>
<polygon points="158.90,802.65 159.73,804.86 162.09,804.96 160.24,806.43 160.87,808.71 158.90,807.41 156.93,808.71 157.56,806.43 155.71,804.96 158.07,804.86" fill="#231f20"/>
<polygon points="207.90,795.75 208.73,797.96 211.09,798.06 209.24,799.53 209.87,801.81 207.90,800.51 205.93,801.81 206.56,799.53 204.71,798.06 207.07,797.96" fill="#231f20"/>
<polygon points="215.00,795.75 215.83,797.96 218.19,798.06 216.34,799.53 216.97,801.81 215.00,800.51 213.03,801.81 213.66,799.53 211.81,798.06 214.17,797.96" fill="#231f20"/>
<text x="331.2" y="790.8" font-size="17.8" font-weight="bold" stroke="#000" stroke-width="0.45" textLength="9.1" lengthAdjust="spacingAndGlyphs" fill="#000">F</text>
<text x="353.7" y="817.7" font-size="12.4" textLength="130.9" lengthAdjust="spacingAndGlyphs" fill="#231f20">Type 1 Interferon - P0</text>
<text x="346.8" y="930.8" font-size="12.2" textLength="49.8" lengthAdjust="spacingAndGlyphs" fill="#d62f45">Wild type</text>
<text x="464.6" y="934.0" font-size="12.2" textLength="19.3" lengthAdjust="spacingAndGlyphs" fill="#3b3b8c">Flt3</text>
<text x="484.5" y="928.8" font-size="7.6" textLength="12.3" lengthAdjust="spacingAndGlyphs" fill="#3b3b8c">ITD</text>
<text x="497.1" y="934.0" font-size="12.2" textLength="4.7" lengthAdjust="spacingAndGlyphs" fill="#3b3b8c">/</text>
<text x="463.7" y="947.7" font-size="12.2" textLength="37.7" lengthAdjust="spacingAndGlyphs" fill="#3b3b8c">NHD13</text>
</svg>
</body></html>
